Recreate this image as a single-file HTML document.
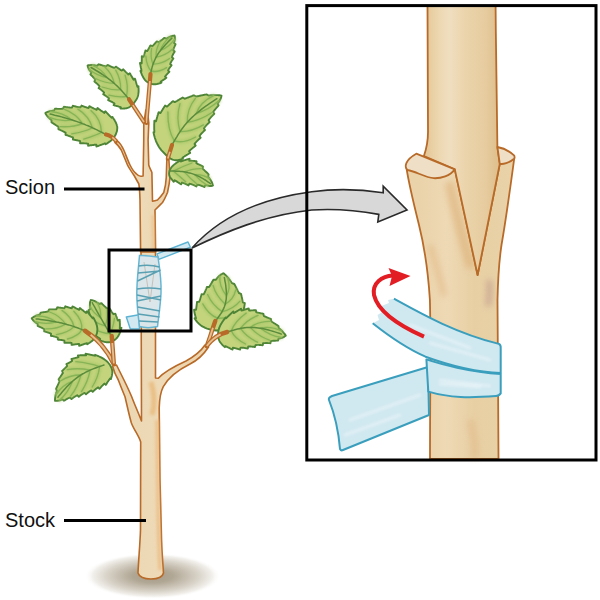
<!DOCTYPE html>
<html><head><meta charset="utf-8"><style>
html,body{margin:0;padding:0;background:#fff;}
svg{display:block;}
</style></head><body>
<svg width="600" height="600" viewBox="0 0 600 600">
<defs><linearGradient id="tg" x1="0" y1="0" x2="1" y2="0"><stop offset="0" stop-color="#ebd6b1"/><stop offset="0.5" stop-color="#eedab7"/><stop offset="1" stop-color="#ebd3ab"/></linearGradient><filter id="bl1" filterUnits="userSpaceOnUse" x="0" y="0" width="600" height="600"><feGaussianBlur stdDeviation="1.5"/></filter><filter id="bl2" filterUnits="userSpaceOnUse" x="0" y="0" width="600" height="600"><feGaussianBlur stdDeviation="3"/></filter><radialGradient id="sh" cx="0.5" cy="0.5" r="0.5"><stop offset="0" stop-color="#a49a86"/><stop offset="0.3" stop-color="#b1a795"/><stop offset="0.65" stop-color="#d6d0c5"/><stop offset="0.88" stop-color="#f2f0ec"/><stop offset="1" stop-color="#ffffff" stop-opacity="0"/></radialGradient><linearGradient id="sg" gradientUnits="userSpaceOnUse" x1="427" y1="0" x2="497" y2="0"><stop offset="0" stop-color="#e6c999"/><stop offset="0.18" stop-color="#edd8b2"/><stop offset="0.32" stop-color="#f0dec0"/><stop offset="0.55" stop-color="#ebd4ab"/><stop offset="0.85" stop-color="#e6cb9e"/><stop offset="1" stop-color="#dfc08e"/></linearGradient><linearGradient id="kg" gradientUnits="userSpaceOnUse" x1="420" y1="0" x2="510" y2="0"><stop offset="0" stop-color="#ead3aa"/><stop offset="0.3" stop-color="#eed9b5"/><stop offset="0.6" stop-color="#e8cfa3"/><stop offset="1" stop-color="#e9d2a8"/></linearGradient></defs>
<ellipse cx="152.5" cy="576" rx="68" ry="23" fill="url(#sh)"/><path d="M141,250 L141.5,421 C138,412 134,403 131.7,396.7 C128,388 124,380 120.5,373 L116.5,365 L112.5,366 C114,372 116,376 118.3,380 C121,387 123,392 125,396.7 C127,405 129,415 131.3,422.7 C134,430 139,436 140.7,442 L140.5,530 C140,545 138.5,560 138,573 Q140,579 151,579 Q162,579 163.5,573 C162.5,560 161.5,545 161.3,530 L160,480 L159.2,408 C159.5,398 161,391 163.3,386.7 C168,378 178,370 190,364 C198,360 204,354 208.5,347 L205,345 C201,351 195,356 186,361 C175,366 164,372 158.3,378.3 L155.5,378 L155.5,250 Z" fill="url(#tg)" stroke="#b86a28" stroke-width="1.6" stroke-linejoin="round"/><path d="M157,420 C157.5,480 158,540 160,570" stroke="#eab679" stroke-width="3" fill="none" filter="url(#bl1)" opacity="0.8"/><path d="M151,382 C155,395 155,405 152,415" stroke="#e8b878" stroke-width="5" fill="none" filter="url(#bl1)" opacity="0.8"/><path d="M140.6,252 L140,200 C139.8,193 139.5,187 138.75,183.75 C136.5,180 135,177 133.75,175 C131,171 129,168 127.5,165 C125,159 123,154 121.25,150 C119,146.5 117,144 115,142.5 L116.5,140 C119,142 122,146 123.75,150 C126,155 128,161 130,165 C132,169 134,172 136.25,173.75 C138,175.5 140,176.5 141.25,176.25 L143.1,176 L143.75,140 L143.8,124 L145.8,110 L147.3,110 L148.8,123 L148.1,140 L148.75,165 C149.5,168 151,170 151.9,172.5 L152.5,201.25 C154,201 156,200.5 157.5,200 C160,197.5 162,195 163.75,192.5 C165,188 166,183 166.25,177.5 L166.9,157.5 L168.75,157.5 L170,177.5 C169.5,183 168.5,188 167.5,192.5 C166,196 164.5,199.5 162.5,202.5 C160,205 157,208 155,210 L155.6,252 Z" fill="url(#tg)" stroke="#b86a28" stroke-width="1.6" stroke-linejoin="round"/><path d="M153,215 L153.5,250" stroke="#e9b87e" stroke-width="2.5" fill="none" filter="url(#bl1)" opacity="0.7"/><path d="M148.0,82.5 L150.9,83.8 L152.2,84.1 L153.1,84.2 L153.9,84.3 L154.6,84.3 L155.3,84.3 L155.9,84.2 L156.4,84.1 L156.9,84.1 L157.4,83.9 L157.9,83.8 L158.4,83.7 L158.8,83.6 L159.3,83.4 L159.7,83.3 L160.2,83.2 L160.6,83.0 L161.0,82.9 L161.5,82.7 L160.6,81.9 L160.9,81.6 L161.2,81.4 L161.5,81.2 L161.8,81.0 L162.0,80.7 L162.3,80.5 L162.7,80.3 L163.0,80.1 L163.3,79.9 L163.6,79.7 L163.9,79.5 L164.2,79.3 L164.6,79.1 L164.9,78.9 L165.2,78.6 L165.5,78.4 L165.8,78.2 L166.1,78.0 L166.4,77.8 L165.0,76.6 L165.2,76.3 L165.4,76.1 L165.6,75.8 L165.8,75.5 L166.1,75.3 L166.3,75.0 L166.5,74.7 L166.8,74.5 L167.0,74.2 L167.2,74.0 L167.5,73.7 L167.7,73.5 L167.9,73.2 L168.2,73.0 L168.4,72.7 L168.7,72.5 L168.9,72.2 L169.2,72.0 L169.4,71.7 L168.0,70.5 L168.1,70.2 L168.3,69.9 L168.4,69.6 L168.6,69.3 L168.8,69.0 L169.0,68.8 L169.1,68.5 L169.3,68.2 L169.5,67.9 L169.7,67.6 L169.9,67.4 L170.1,67.1 L170.3,66.8 L170.5,66.6 L170.8,66.3 L171.0,66.0 L171.2,65.8 L171.4,65.5 L171.6,65.2 L170.1,64.0 L170.2,63.7 L170.4,63.4 L170.5,63.1 L170.7,62.8 L170.8,62.5 L171.0,62.2 L171.1,61.9 L171.3,61.6 L171.5,61.3 L171.6,61.0 L171.8,60.7 L172.0,60.4 L172.2,60.1 L172.4,59.9 L172.6,59.6 L172.8,59.3 L173.0,59.0 L173.2,58.8 L173.4,58.5 L171.8,57.2 L171.9,56.9 L172.1,56.6 L172.2,56.3 L172.3,55.9 L172.4,55.6 L172.6,55.3 L172.7,55.0 L172.9,54.7 L173.0,54.4 L173.2,54.1 L173.3,53.8 L173.5,53.5 L173.7,53.2 L173.8,52.9 L174.0,52.7 L174.2,52.4 L174.4,52.1 L174.6,51.8 L174.7,51.5 L173.2,50.2 L173.3,49.9 L173.3,49.6 L173.4,49.2 L173.6,48.9 L173.7,48.6 L173.8,48.3 L173.9,47.9 L174.0,47.6 L174.2,47.3 L174.3,47.0 L174.4,46.7 L174.6,46.4 L174.7,46.1 L174.9,45.8 L175.0,45.5 L175.1,45.2 L175.3,44.9 L175.4,44.5 L175.6,44.2 L174.0,43.0 L174.1,42.6 L174.2,42.3 L174.3,42.0 L174.4,41.6 L174.5,41.3 L174.6,41.0 L174.6,40.6 L174.7,40.3 L174.8,39.9 L174.8,39.6 L174.9,39.2 L174.9,38.8 L174.9,38.5 L174.9,38.1 L174.9,37.7 L174.9,37.3 L174.8,36.9 L174.8,36.4 L174.7,36.0 L174.5,35.5 L174.5,35.5 L173.9,35.6 L173.4,35.7 L172.9,35.8 L172.4,35.9 L172.0,36.0 L171.5,36.1 L171.1,36.3 L170.7,36.4 L170.3,36.6 L169.9,36.8 L169.5,36.9 L169.1,37.1 L168.8,37.3 L168.4,37.5 L168.1,37.7 L167.7,37.9 L167.4,38.1 L167.1,38.3 L166.7,38.5 L166.4,38.7 L164.4,37.9 L164.1,38.1 L163.8,38.4 L163.5,38.6 L163.2,38.8 L162.9,39.1 L162.7,39.3 L162.4,39.5 L162.1,39.7 L161.8,40.0 L161.5,40.2 L161.2,40.4 L160.9,40.6 L160.6,40.8 L160.3,41.1 L160.0,41.3 L159.7,41.5 L159.4,41.7 L159.1,41.9 L158.7,42.1 L156.8,41.4 L156.6,41.6 L156.3,41.9 L156.1,42.2 L155.9,42.4 L155.7,42.7 L155.4,42.9 L155.2,43.2 L155.0,43.5 L154.7,43.7 L154.5,44.0 L154.3,44.2 L154.1,44.5 L153.8,44.7 L153.6,45.0 L153.3,45.2 L153.1,45.5 L152.8,45.7 L152.6,46.0 L152.3,46.2 L150.4,45.5 L150.2,45.8 L150.1,46.1 L149.9,46.4 L149.8,46.7 L149.6,47.0 L149.4,47.3 L149.3,47.6 L149.1,47.9 L149.0,48.2 L148.8,48.5 L148.6,48.8 L148.5,49.1 L148.3,49.4 L148.1,49.7 L148.0,50.0 L147.8,50.2 L147.6,50.5 L147.4,50.8 L147.2,51.1 L145.4,50.4 L145.3,50.8 L145.2,51.1 L145.1,51.4 L145.0,51.8 L144.9,52.1 L144.8,52.5 L144.8,52.8 L144.7,53.1 L144.6,53.5 L144.5,53.8 L144.4,54.1 L144.3,54.5 L144.2,54.8 L144.1,55.2 L144.0,55.5 L143.9,55.8 L143.8,56.1 L143.7,56.5 L143.6,56.8 L141.8,56.2 L141.8,56.6 L141.8,56.9 L141.8,57.3 L141.8,57.7 L141.8,58.1 L141.8,58.5 L141.8,58.9 L141.8,59.2 L141.8,59.6 L141.8,60.0 L141.8,60.4 L141.7,60.8 L141.7,61.2 L141.7,61.5 L141.7,61.9 L141.7,62.3 L141.7,62.7 L141.7,63.1 L141.6,63.4 L140.0,62.9 L140.0,63.3 L140.1,63.7 L140.2,64.2 L140.3,64.6 L140.4,65.0 L140.5,65.5 L140.6,65.9 L140.6,66.4 L140.7,66.8 L140.8,67.2 L140.9,67.7 L141.0,68.1 L141.1,68.6 L141.2,69.0 L141.3,69.4 L141.3,69.8 L141.4,70.3 L141.5,70.7 L141.5,71.1 L140.4,70.9 L140.6,71.4 L140.8,71.9 L141.0,72.4 L141.2,72.9 L141.4,73.4 L141.6,73.9 L141.8,74.4 L142.0,74.9 L142.3,75.4 L142.5,75.9 L142.8,76.5 L143.0,77.0 L143.4,77.6 L143.7,78.1 L144.1,78.7 L144.5,79.4 L145.1,80.1 L145.9,80.9 L148.0,82.5Z" fill="#c3d47d" stroke="#4d8436" stroke-width="1.9" stroke-linejoin="round"/><path d="M151.2,71.0 Q157.9,72.9 166.6,67.6 M151.2,71.0 Q146.7,66.6 145.8,55.9 M153.1,64.1 Q161.6,64.2 169.6,58.5 M153.1,64.1 Q150.0,57.6 151.6,48.3 M156.1,57.2 Q165.4,55.5 172.4,49.2 M156.1,57.2 Q155.4,49.8 159.8,42.1 M160.4,50.5 Q169.5,46.9 174.4,39.4 M160.4,50.5 Q162.6,43.1 170.1,37.0" fill="none" stroke="#a2c363" stroke-width="3.5" stroke-linecap="round" opacity="0.7" filter="url(#bl1)"/><path d="M151.2,71.0 Q157.9,72.9 166.6,67.6 M151.2,71.0 Q146.7,66.6 145.8,55.9 M153.1,64.1 Q161.6,64.2 169.6,58.5 M153.1,64.1 Q150.0,57.6 151.6,48.3 M156.1,57.2 Q165.4,55.5 172.4,49.2 M156.1,57.2 Q155.4,49.8 159.8,42.1 M160.4,50.5 Q169.5,46.9 174.4,39.4 M160.4,50.5 Q162.6,43.1 170.1,37.0" fill="none" stroke="#86b456" stroke-width="1.3" stroke-linecap="round"/><path d="M150.5,74.0 L150.8,72.7 L151.1,71.5 L151.4,70.2 L151.7,68.9 L152.0,67.6 L152.4,66.3 L152.8,64.9 L153.3,63.6 L153.8,62.3 L154.3,61.0 L154.9,59.7 L155.5,58.4 L156.1,57.1 L156.9,55.8 L157.6,54.5 L158.5,53.2 L159.3,51.9 L160.3,50.7 L161.3,49.4 L162.3,48.2 L163.4,46.9 L164.5,45.7 L165.6,44.4 L166.8,43.2 L168.0,41.9 L169.3,40.6 L170.6,39.4 L171.9,38.1" fill="none" stroke="#5a8c3c" stroke-width="1.5" stroke-linecap="round"/><path d="M134.0,103.0 L136.6,99.2 L137.3,97.8 L137.7,96.7 L138.0,95.7 L138.2,94.9 L138.3,94.1 L138.4,93.4 L138.5,92.7 L138.6,92.0 L138.6,91.4 L138.6,90.8 L138.6,90.2 L138.6,89.6 L138.6,89.0 L138.6,88.5 L138.5,87.9 L138.5,87.3 L138.5,86.8 L138.5,86.2 L137.5,86.8 L137.3,86.4 L137.2,86.0 L137.1,85.6 L136.9,85.1 L136.8,84.7 L136.7,84.3 L136.5,83.8 L136.4,83.4 L136.3,83.0 L136.2,82.5 L136.1,82.1 L135.9,81.6 L135.8,81.2 L135.7,80.8 L135.5,80.3 L135.4,79.9 L135.3,79.5 L135.1,79.0 L135.0,78.6 L133.6,79.7 L133.4,79.4 L133.2,79.1 L133.0,78.8 L132.8,78.4 L132.6,78.1 L132.4,77.7 L132.2,77.4 L132.0,77.0 L131.8,76.7 L131.6,76.4 L131.4,76.0 L131.2,75.7 L131.0,75.3 L130.8,75.0 L130.6,74.6 L130.4,74.3 L130.2,73.9 L130.0,73.6 L129.8,73.3 L128.3,74.5 L128.0,74.2 L127.7,74.0 L127.5,73.7 L127.2,73.5 L126.9,73.2 L126.7,72.9 L126.4,72.7 L126.1,72.4 L125.9,72.1 L125.6,71.8 L125.4,71.6 L125.1,71.3 L124.9,71.0 L124.6,70.7 L124.3,70.5 L124.1,70.2 L123.8,69.9 L123.6,69.6 L123.3,69.3 L121.8,70.6 L121.5,70.4 L121.2,70.2 L120.8,70.1 L120.5,69.9 L120.2,69.6 L119.9,69.4 L119.6,69.2 L119.3,69.0 L119.0,68.8 L118.7,68.6 L118.4,68.4 L118.1,68.2 L117.7,67.9 L117.4,67.7 L117.1,67.5 L116.8,67.3 L116.5,67.1 L116.2,66.8 L115.9,66.6 L114.4,67.9 L114.0,67.8 L113.6,67.7 L113.3,67.5 L112.9,67.4 L112.6,67.3 L112.2,67.1 L111.8,66.9 L111.5,66.8 L111.1,66.6 L110.8,66.5 L110.4,66.3 L110.1,66.1 L109.8,66.0 L109.4,65.8 L109.1,65.6 L108.7,65.5 L108.4,65.3 L108.0,65.1 L107.7,64.9 L106.1,66.3 L105.7,66.3 L105.3,66.2 L104.9,66.1 L104.5,66.0 L104.1,65.9 L103.7,65.8 L103.3,65.7 L102.9,65.6 L102.5,65.5 L102.1,65.3 L101.7,65.2 L101.3,65.1 L101.0,65.0 L100.6,64.9 L100.2,64.7 L99.8,64.6 L99.4,64.5 L99.1,64.4 L98.7,64.3 L97.0,65.7 L96.6,65.6 L96.2,65.6 L95.8,65.5 L95.3,65.4 L94.9,65.3 L94.5,65.3 L94.1,65.2 L93.6,65.2 L93.2,65.1 L92.7,65.1 L92.3,65.1 L91.8,65.0 L91.3,65.0 L90.8,65.0 L90.3,65.1 L89.8,65.1 L89.3,65.2 L88.8,65.2 L88.2,65.3 L87.6,65.5 L87.6,65.5 L87.7,66.0 L87.8,66.5 L87.9,66.9 L88.0,67.3 L88.2,67.7 L88.4,68.1 L88.5,68.5 L88.7,68.9 L88.9,69.2 L89.1,69.6 L89.3,69.9 L89.5,70.2 L89.8,70.5 L90.0,70.8 L90.2,71.1 L90.5,71.4 L90.7,71.7 L90.9,72.0 L91.2,72.3 L91.4,72.7 L90.4,74.5 L90.7,74.7 L91.0,75.0 L91.3,75.2 L91.5,75.5 L91.8,75.7 L92.1,76.0 L92.3,76.3 L92.6,76.5 L92.9,76.8 L93.1,77.1 L93.4,77.3 L93.6,77.6 L93.9,77.9 L94.1,78.2 L94.4,78.5 L94.6,78.8 L94.9,79.1 L95.1,79.4 L95.3,79.7 L94.4,81.5 L94.6,81.7 L94.9,81.9 L95.2,82.2 L95.5,82.4 L95.8,82.6 L96.1,82.9 L96.4,83.1 L96.7,83.3 L97.0,83.6 L97.2,83.8 L97.5,84.1 L97.8,84.3 L98.1,84.6 L98.3,84.9 L98.6,85.1 L98.8,85.4 L99.1,85.7 L99.3,86.0 L99.6,86.3 L98.6,88.1 L98.9,88.3 L99.2,88.5 L99.5,88.7 L99.9,88.9 L100.2,89.1 L100.5,89.3 L100.8,89.6 L101.1,89.8 L101.4,90.0 L101.6,90.2 L101.9,90.5 L102.2,90.7 L102.5,91.0 L102.8,91.2 L103.1,91.5 L103.3,91.7 L103.6,92.0 L103.9,92.2 L104.1,92.5 L103.2,94.3 L103.5,94.5 L103.8,94.7 L104.2,94.8 L104.5,95.0 L104.8,95.2 L105.1,95.4 L105.4,95.6 L105.7,95.8 L106.1,96.1 L106.4,96.3 L106.7,96.5 L107.0,96.7 L107.3,96.9 L107.6,97.1 L107.9,97.4 L108.2,97.6 L108.4,97.8 L108.7,98.1 L109.0,98.3 L108.1,100.1 L108.4,100.2 L108.8,100.4 L109.1,100.6 L109.5,100.7 L109.8,100.9 L110.2,101.1 L110.5,101.2 L110.8,101.4 L111.2,101.6 L111.5,101.7 L111.9,101.9 L112.2,102.1 L112.5,102.3 L112.9,102.5 L113.2,102.7 L113.5,102.8 L113.8,103.0 L114.1,103.2 L114.5,103.5 L113.6,105.1 L114.0,105.2 L114.4,105.4 L114.7,105.5 L115.1,105.6 L115.5,105.7 L115.9,105.8 L116.3,105.9 L116.7,106.0 L117.1,106.1 L117.5,106.2 L117.9,106.3 L118.3,106.4 L118.7,106.6 L119.0,106.7 L119.4,106.8 L119.8,106.9 L120.2,107.1 L120.5,107.2 L120.9,107.4 L120.4,108.5 L120.9,108.5 L121.4,108.6 L121.8,108.6 L122.3,108.6 L122.8,108.6 L123.3,108.6 L123.8,108.5 L124.3,108.5 L124.8,108.5 L125.3,108.4 L125.8,108.4 L126.4,108.3 L127.0,108.1 L127.6,107.9 L128.3,107.7 L129.1,107.3 L129.9,106.8 L131.1,106.0 L134.0,103.0Z" fill="#c3d47d" stroke="#4d8436" stroke-width="1.9" stroke-linejoin="round"/><path d="M126.5,96.3 Q128.7,86.4 125.1,75.1 M126.5,96.3 Q119.5,97.7 108.9,95.1 M120.7,89.7 Q121.0,79.2 115.7,70.1 M120.7,89.7 Q111.9,90.4 102.0,87.0 M114.3,83.4 Q112.1,73.6 104.8,67.0 M114.3,83.4 Q104.5,83.0 95.5,78.5 M106.9,77.5 Q102.1,69.3 92.6,65.5 M106.9,77.5 Q97.0,75.6 89.5,69.4" fill="none" stroke="#a2c363" stroke-width="3.5" stroke-linecap="round" opacity="0.7" filter="url(#bl1)"/><path d="M126.5,96.3 Q128.7,86.4 125.1,75.1 M126.5,96.3 Q119.5,97.7 108.9,95.1 M120.7,89.7 Q121.0,79.2 115.7,70.1 M120.7,89.7 Q111.9,90.4 102.0,87.0 M114.3,83.4 Q112.1,73.6 104.8,67.0 M114.3,83.4 Q104.5,83.0 95.5,78.5 M106.9,77.5 Q102.1,69.3 92.6,65.5 M106.9,77.5 Q97.0,75.6 89.5,69.4" fill="none" stroke="#86b456" stroke-width="1.3" stroke-linecap="round"/><path d="M129.0,99.3 L128.0,98.1 L126.9,96.8 L125.9,95.5 L124.8,94.3 L123.7,93.0 L122.6,91.8 L121.5,90.5 L120.3,89.3 L119.1,88.1 L117.9,86.8 L116.7,85.6 L115.4,84.5 L114.1,83.3 L112.8,82.1 L111.4,81.0 L110.0,79.9 L108.6,78.8 L107.1,77.7 L105.7,76.6 L104.1,75.6 L102.6,74.5 L101.0,73.5 L99.4,72.5 L97.8,71.5 L96.1,70.5 L94.5,69.5 L92.8,68.5 L91.1,67.5" fill="none" stroke="#5a8c3c" stroke-width="1.5" stroke-linecap="round"/><path d="M117.0,131.0 L117.3,127.9 L117.2,126.5 L116.9,125.5 L116.7,124.6 L116.4,123.9 L116.1,123.1 L115.8,122.5 L115.5,121.9 L115.2,121.3 L114.8,120.7 L114.5,120.1 L114.2,119.6 L113.8,119.0 L113.5,118.5 L113.1,118.0 L112.8,117.5 L112.4,116.9 L111.8,117.7 L111.4,117.4 L111.0,117.0 L110.6,116.7 L110.2,116.3 L109.8,115.9 L109.4,115.6 L109.1,115.2 L108.7,114.8 L108.3,114.4 L107.9,114.0 L107.6,113.6 L107.2,113.2 L106.8,112.8 L106.4,112.4 L106.0,112.0 L105.7,111.6 L105.3,111.3 L104.4,112.9 L104.0,112.6 L103.6,112.4 L103.2,112.1 L102.8,111.8 L102.4,111.5 L102.0,111.2 L101.5,111.0 L101.1,110.7 L100.7,110.4 L100.3,110.1 L99.9,109.8 L99.5,109.5 L99.1,109.2 L98.7,108.9 L98.3,108.6 L97.9,108.3 L97.5,108.0 L96.6,109.8 L96.2,109.6 L95.7,109.4 L95.3,109.2 L94.9,109.0 L94.5,108.8 L94.0,108.6 L93.6,108.4 L93.2,108.2 L92.8,108.0 L92.3,107.8 L91.9,107.5 L91.5,107.3 L91.1,107.1 L90.7,106.9 L90.2,106.6 L89.8,106.4 L89.4,106.2 L88.5,108.0 L88.0,107.9 L87.6,107.8 L87.1,107.6 L86.7,107.5 L86.3,107.4 L85.8,107.2 L85.4,107.1 L84.9,106.9 L84.5,106.8 L84.1,106.6 L83.6,106.4 L83.2,106.3 L82.8,106.1 L82.3,105.9 L81.9,105.8 L81.5,105.6 L80.5,107.4 L80.1,107.3 L79.6,107.3 L79.1,107.2 L78.7,107.1 L78.2,107.1 L77.8,107.0 L77.3,106.9 L76.9,106.8 L76.4,106.7 L76.0,106.6 L75.5,106.5 L75.1,106.3 L74.6,106.2 L74.2,106.1 L73.7,106.0 L73.3,105.9 L72.8,105.8 L71.9,107.6 L71.4,107.6 L70.9,107.6 L70.5,107.6 L70.0,107.6 L69.5,107.5 L69.1,107.5 L68.6,107.4 L68.1,107.4 L67.7,107.3 L67.2,107.3 L66.8,107.2 L66.3,107.2 L65.8,107.1 L65.4,107.0 L64.9,107.0 L64.5,106.9 L64.0,106.8 L63.0,108.7 L62.6,108.8 L62.1,108.8 L61.6,108.9 L61.1,108.9 L60.6,108.9 L60.1,108.9 L59.7,108.9 L59.2,108.9 L58.7,108.9 L58.2,108.9 L57.8,108.9 L57.3,108.9 L56.8,108.8 L56.4,108.8 L55.9,108.8 L55.4,108.8 L54.9,108.8 L54.0,110.6 L53.5,110.7 L53.0,110.7 L52.5,110.8 L52.0,110.9 L51.5,110.9 L51.0,111.0 L50.5,111.1 L50.0,111.2 L49.5,111.3 L49.0,111.4 L48.5,111.6 L48.0,111.8 L47.5,111.9 L46.9,112.2 L46.4,112.4 L45.9,112.7 L45.3,113.0 L45.3,113.0 L45.6,113.7 L45.9,114.2 L46.3,114.8 L46.6,115.3 L47.0,115.8 L47.4,116.2 L47.7,116.6 L48.1,117.1 L48.5,117.4 L48.9,117.8 L49.2,118.2 L49.6,118.6 L50.0,118.9 L50.4,119.2 L50.8,119.6 L51.2,119.9 L51.6,120.2 L51.5,122.3 L51.9,122.6 L52.3,122.9 L52.8,123.1 L53.2,123.4 L53.6,123.6 L54.0,123.9 L54.4,124.2 L54.8,124.4 L55.2,124.7 L55.6,124.9 L56.0,125.2 L56.5,125.5 L56.9,125.8 L57.3,126.0 L57.7,126.3 L58.1,126.6 L58.5,126.9 L58.4,129.1 L58.8,129.3 L59.3,129.5 L59.7,129.7 L60.1,129.9 L60.5,130.1 L61.0,130.3 L61.4,130.5 L61.8,130.7 L62.2,130.9 L62.7,131.1 L63.1,131.3 L63.5,131.5 L63.9,131.8 L64.4,132.0 L64.8,132.2 L65.2,132.5 L65.6,132.7 L65.5,134.8 L66.0,135.0 L66.4,135.1 L66.9,135.2 L67.3,135.4 L67.8,135.5 L68.2,135.7 L68.6,135.8 L69.1,136.0 L69.5,136.1 L69.9,136.3 L70.4,136.4 L70.8,136.6 L71.3,136.8 L71.7,136.9 L72.1,137.1 L72.5,137.3 L73.0,137.5 L72.9,139.6 L73.4,139.6 L73.8,139.7 L74.3,139.8 L74.8,139.9 L75.2,140.0 L75.7,140.0 L76.1,140.1 L76.6,140.2 L77.0,140.3 L77.5,140.4 L77.9,140.5 L78.4,140.6 L78.8,140.7 L79.3,140.8 L79.7,141.0 L80.2,141.1 L80.1,143.2 L80.6,143.2 L81.1,143.2 L81.5,143.2 L82.0,143.2 L82.5,143.3 L83.0,143.3 L83.4,143.3 L83.9,143.3 L84.4,143.4 L84.8,143.4 L85.3,143.4 L85.8,143.4 L86.2,143.5 L86.7,143.5 L87.2,143.6 L87.6,143.6 L88.1,143.7 L88.1,145.7 L88.6,145.6 L89.1,145.5 L89.5,145.5 L90.0,145.4 L90.5,145.3 L91.0,145.3 L91.5,145.2 L92.0,145.1 L92.5,145.1 L93.0,145.0 L93.5,145.0 L94.0,144.9 L94.5,144.8 L95.0,144.8 L95.4,144.7 L95.9,144.7 L96.4,144.7 L96.4,146.5 L97.0,146.3 L97.5,146.1 L98.0,146.0 L98.5,145.8 L99.0,145.6 L99.6,145.4 L100.1,145.2 L100.6,145.0 L101.1,144.8 L101.7,144.6 L102.2,144.4 L102.7,144.3 L103.2,144.1 L103.8,143.9 L104.3,143.7 L104.8,143.5 L105.3,143.4 L105.6,144.3 L106.1,144.0 L106.7,143.6 L107.3,143.3 L107.8,142.9 L108.4,142.5 L109.0,142.1 L109.6,141.6 L110.2,141.2 L110.8,140.7 L111.4,140.2 L112.0,139.6 L112.6,139.0 L113.3,138.2 L114.0,137.4 L114.7,136.3 L115.6,134.8 L117.0,131.0Z" fill="#c3d47d" stroke="#4d8436" stroke-width="1.9" stroke-linejoin="round"/><path d="M101.4,132.2 Q101.2,119.4 90.9,110.6 M101.4,132.2 Q97.4,134.9 83.7,139.1 M92.4,127.7 Q88.8,115.8 77.9,109.1 M92.4,127.7 Q84.8,131.8 71.7,133.8 M82.5,123.6 Q76.0,113.7 64.5,109.4 M82.5,123.6 Q72.6,127.4 60.2,126.6 M72.0,119.9 Q62.9,112.6 50.6,111.5 M72.0,119.9 Q60.6,122.0 49.2,117.4" fill="none" stroke="#a2c363" stroke-width="3.5" stroke-linecap="round" opacity="0.7" filter="url(#bl1)"/><path d="M101.4,132.2 Q101.2,119.4 90.9,110.6 M101.4,132.2 Q97.4,134.9 83.7,139.1 M92.4,127.7 Q88.8,115.8 77.9,109.1 M92.4,127.7 Q84.8,131.8 71.7,133.8 M82.5,123.6 Q76.0,113.7 64.5,109.4 M82.5,123.6 Q72.6,127.4 60.2,126.6 M72.0,119.9 Q62.9,112.6 50.6,111.5 M72.0,119.9 Q60.6,122.0 49.2,117.4" fill="none" stroke="#86b456" stroke-width="1.3" stroke-linecap="round"/><path d="M105.3,134.3 L103.7,133.4 L102.1,132.5 L100.4,131.7 L98.7,130.8 L97.0,129.9 L95.3,129.1 L93.5,128.3 L91.7,127.4 L89.9,126.6 L88.1,125.8 L86.2,125.1 L84.3,124.3 L82.3,123.6 L80.4,122.8 L78.4,122.1 L76.4,121.4 L74.3,120.7 L72.3,120.0 L70.2,119.4 L68.1,118.7 L65.9,118.1 L63.7,117.5 L61.5,116.9 L59.3,116.3 L57.0,115.7 L54.7,115.2 L52.4,114.6 L50.1,114.1" fill="none" stroke="#5a8c3c" stroke-width="1.5" stroke-linecap="round"/><path d="M167.0,156.0 L171.0,158.9 L172.5,159.6 L173.6,159.9 L174.6,160.1 L175.4,160.2 L176.2,160.2 L176.9,160.2 L177.6,160.1 L178.3,160.0 L178.9,159.9 L179.5,159.8 L180.1,159.6 L180.7,159.5 L181.3,159.3 L181.8,159.1 L182.4,158.9 L183.0,158.8 L182.5,157.7 L182.9,157.4 L183.4,157.1 L183.8,156.8 L184.3,156.5 L184.7,156.2 L185.1,155.9 L185.6,155.6 L186.0,155.4 L186.5,155.1 L186.9,154.8 L187.4,154.6 L187.9,154.3 L188.3,154.0 L188.8,153.7 L189.2,153.5 L189.7,153.2 L190.2,152.9 L189.1,151.3 L189.4,150.9 L189.8,150.5 L190.2,150.2 L190.5,149.8 L190.9,149.5 L191.3,149.2 L191.7,148.8 L192.1,148.5 L192.5,148.2 L192.9,147.8 L193.3,147.5 L193.7,147.2 L194.1,146.9 L194.5,146.5 L194.9,146.2 L195.3,145.9 L195.7,145.6 L194.5,143.9 L194.9,143.5 L195.2,143.1 L195.5,142.7 L195.9,142.3 L196.2,141.9 L196.5,141.6 L196.9,141.2 L197.3,140.8 L197.6,140.5 L198.0,140.1 L198.4,139.8 L198.7,139.4 L199.1,139.1 L199.5,138.8 L199.9,138.4 L200.3,138.1 L200.7,137.7 L199.5,136.0 L199.8,135.6 L200.1,135.2 L200.4,134.8 L200.7,134.4 L201.1,134.0 L201.4,133.6 L201.8,133.3 L202.1,132.9 L202.5,132.5 L202.8,132.2 L203.2,131.8 L203.5,131.4 L203.9,131.1 L204.3,130.7 L204.7,130.4 L205.0,130.1 L203.9,128.4 L204.2,127.9 L204.5,127.5 L204.8,127.1 L205.1,126.7 L205.5,126.3 L205.8,125.9 L206.1,125.6 L206.5,125.2 L206.8,124.8 L207.2,124.4 L207.5,124.1 L207.9,123.7 L208.3,123.4 L208.6,123.0 L209.0,122.7 L209.4,122.3 L209.7,122.0 L208.6,120.3 L208.9,119.8 L209.2,119.4 L209.5,119.0 L209.8,118.6 L210.1,118.2 L210.5,117.8 L210.8,117.4 L211.1,117.1 L211.5,116.7 L211.8,116.3 L212.2,115.9 L212.5,115.6 L212.9,115.2 L213.2,114.9 L213.6,114.5 L214.0,114.1 L214.3,113.8 L213.2,112.1 L213.5,111.6 L213.7,111.2 L214.0,110.8 L214.3,110.4 L214.7,110.0 L215.0,109.6 L215.3,109.2 L215.6,108.8 L216.0,108.4 L216.3,108.0 L216.6,107.6 L217.0,107.3 L217.3,106.9 L217.7,106.5 L218.0,106.1 L218.3,105.7 L218.6,105.3 L217.6,103.7 L217.9,103.3 L218.2,102.9 L218.5,102.4 L218.7,102.0 L219.0,101.6 L219.3,101.2 L219.6,100.7 L219.8,100.3 L220.1,99.8 L220.3,99.3 L220.6,98.9 L220.8,98.4 L221.0,97.9 L221.1,97.3 L221.3,96.8 L221.4,96.2 L221.5,95.6 L221.5,95.6 L220.5,95.4 L219.6,95.3 L218.8,95.2 L217.9,95.1 L217.1,95.1 L216.4,95.1 L215.6,95.1 L214.8,95.1 L214.1,95.1 L213.4,95.1 L212.6,95.1 L211.9,95.2 L211.2,95.3 L210.6,95.3 L209.9,95.4 L209.2,95.5 L208.5,95.5 L206.5,94.4 L205.9,94.5 L205.2,94.6 L204.6,94.7 L204.0,94.9 L203.4,95.0 L202.8,95.1 L202.2,95.3 L201.5,95.4 L200.9,95.5 L200.3,95.7 L199.7,95.8 L199.1,95.9 L198.5,96.1 L197.9,96.2 L197.2,96.3 L196.6,96.4 L196.0,96.5 L193.9,95.3 L193.3,95.5 L192.8,95.7 L192.3,95.9 L191.7,96.1 L191.2,96.3 L190.7,96.5 L190.1,96.7 L189.6,96.9 L189.0,97.1 L188.5,97.3 L188.0,97.5 L187.4,97.7 L186.9,97.9 L186.3,98.1 L185.8,98.3 L185.2,98.5 L184.7,98.7 L182.7,97.5 L182.2,97.8 L181.8,98.1 L181.3,98.4 L180.8,98.6 L180.4,98.9 L179.9,99.2 L179.5,99.4 L179.0,99.7 L178.5,100.0 L178.1,100.3 L177.6,100.5 L177.2,100.8 L176.7,101.1 L176.2,101.3 L175.8,101.6 L175.3,101.8 L174.8,102.1 L172.9,101.1 L172.6,101.4 L172.2,101.8 L171.8,102.1 L171.4,102.5 L171.1,102.8 L170.7,103.2 L170.3,103.5 L169.9,103.9 L169.6,104.2 L169.2,104.6 L168.8,104.9 L168.5,105.3 L168.1,105.6 L167.7,106.0 L167.3,106.3 L167.0,106.6 L165.1,105.6 L164.8,106.1 L164.5,106.5 L164.2,106.9 L164.0,107.4 L163.7,107.8 L163.4,108.2 L163.1,108.7 L162.9,109.1 L162.6,109.6 L162.3,110.0 L162.0,110.4 L161.8,110.9 L161.5,111.3 L161.2,111.8 L161.0,112.2 L160.7,112.6 L160.4,113.1 L158.7,112.2 L158.5,112.7 L158.3,113.2 L158.1,113.8 L158.0,114.3 L157.8,114.8 L157.6,115.4 L157.5,115.9 L157.3,116.4 L157.2,117.0 L157.0,117.5 L156.9,118.1 L156.7,118.6 L156.6,119.2 L156.4,119.7 L156.3,120.3 L156.1,120.8 L156.0,121.4 L154.4,120.7 L154.3,121.3 L154.3,122.0 L154.3,122.6 L154.3,123.3 L154.2,123.9 L154.2,124.6 L154.2,125.3 L154.2,126.0 L154.2,126.7 L154.2,127.4 L154.2,128.0 L154.2,128.7 L154.2,129.4 L154.3,130.1 L154.3,130.8 L154.3,131.5 L154.3,132.2 L153.5,132.1 L153.6,133.0 L153.8,133.8 L154.0,134.7 L154.2,135.6 L154.5,136.5 L154.7,137.4 L155.0,138.4 L155.4,139.3 L155.7,140.3 L156.1,141.4 L156.6,142.5 L157.2,143.7 L157.9,145.0 L158.7,146.5 L159.8,148.2 L161.5,150.3 L167.0,156.0Z" fill="#c3d47d" stroke="#4d8436" stroke-width="1.9" stroke-linejoin="round"/><path d="M174.3,140.9 Q183.2,143.8 195.7,137.0 M174.3,140.9 Q167.5,129.6 167.9,111.9 M180.1,131.5 Q191.4,132.0 203.5,124.9 M180.1,131.5 Q175.8,117.9 180.0,103.6 M187.3,122.3 Q200.0,120.6 211.5,112.8 M187.3,122.3 Q186.9,108.8 195.4,98.4 M196.2,113.6 Q209.2,109.7 219.1,100.6 M196.2,113.6 Q200.5,101.8 213.7,95.7" fill="none" stroke="#a2c363" stroke-width="3.5" stroke-linecap="round" opacity="0.7" filter="url(#bl1)"/><path d="M174.3,140.9 Q183.2,143.8 195.7,137.0 M174.3,140.9 Q167.5,129.6 167.9,111.9 M180.1,131.5 Q191.4,132.0 203.5,124.9 M180.1,131.5 Q175.8,117.9 180.0,103.6 M187.3,122.3 Q200.0,120.6 211.5,112.8 M187.3,122.3 Q186.9,108.8 195.4,98.4 M196.2,113.6 Q209.2,109.7 219.1,100.6 M196.2,113.6 Q200.5,101.8 213.7,95.7" fill="none" stroke="#86b456" stroke-width="1.3" stroke-linecap="round"/><path d="M171.9,145.2 L172.9,143.4 L173.9,141.7 L174.9,139.9 L176.0,138.1 L177.1,136.3 L178.2,134.4 L179.4,132.6 L180.6,130.8 L181.8,129.1 L183.2,127.3 L184.5,125.5 L186.0,123.8 L187.5,122.1 L189.0,120.4 L190.6,118.7 L192.3,117.1 L194.1,115.5 L195.9,113.9 L197.8,112.3 L199.7,110.8 L201.7,109.2 L203.7,107.7 L205.8,106.2 L208.0,104.7 L210.1,103.2 L212.4,101.7 L214.6,100.2 L216.9,98.7" fill="none" stroke="#5a8c3c" stroke-width="1.5" stroke-linecap="round"/><path d="M169.5,171.0 L169.1,173.2 L169.1,174.1 L169.2,174.7 L169.3,175.3 L169.4,175.7 L169.6,176.2 L169.8,176.6 L169.9,176.9 L170.1,177.2 L170.3,177.6 L170.5,177.9 L170.7,178.1 L171.0,178.4 L171.2,178.7 L171.4,179.0 L171.6,179.2 L171.8,179.5 L172.0,179.7 L172.2,180.0 L172.5,180.2 L172.7,180.5 L172.9,180.8 L173.1,181.0 L173.3,181.3 L173.5,181.6 L173.7,181.8 L174.6,180.2 L174.9,180.3 L175.1,180.5 L175.4,180.6 L175.6,180.8 L175.9,180.9 L176.1,181.1 L176.4,181.3 L176.6,181.4 L176.9,181.6 L177.1,181.7 L177.3,181.9 L177.6,182.1 L177.8,182.2 L178.1,182.4 L178.3,182.5 L178.6,182.7 L178.8,182.9 L179.1,183.0 L179.3,183.2 L179.6,183.3 L179.8,183.5 L180.1,183.7 L180.3,183.8 L180.6,184.0 L180.8,184.2 L181.1,184.3 L182.0,182.5 L182.2,182.6 L182.5,182.7 L182.8,182.8 L183.1,182.9 L183.3,183.0 L183.6,183.1 L183.9,183.2 L184.1,183.3 L184.4,183.4 L184.7,183.5 L184.9,183.6 L185.2,183.7 L185.4,183.9 L185.7,184.0 L186.0,184.1 L186.2,184.2 L186.5,184.4 L186.8,184.5 L187.0,184.6 L187.3,184.8 L187.5,184.9 L187.8,185.0 L188.0,185.2 L188.3,185.3 L188.5,185.4 L189.4,183.7 L189.7,183.7 L190.0,183.8 L190.3,183.9 L190.6,183.9 L190.8,184.0 L191.1,184.1 L191.4,184.2 L191.7,184.3 L191.9,184.4 L192.2,184.5 L192.5,184.6 L192.7,184.7 L193.0,184.8 L193.3,184.9 L193.5,185.0 L193.8,185.1 L194.1,185.2 L194.3,185.4 L194.6,185.5 L194.8,185.6 L195.1,185.7 L195.4,185.8 L195.6,186.0 L195.9,186.1 L196.1,186.2 L196.4,186.4 L197.3,184.6 L197.6,184.6 L197.9,184.7 L198.1,184.7 L198.4,184.8 L198.7,184.9 L199.0,185.0 L199.3,185.0 L199.5,185.1 L199.8,185.2 L200.1,185.3 L200.4,185.4 L200.6,185.5 L200.9,185.6 L201.2,185.7 L201.4,185.8 L201.7,185.9 L202.0,186.0 L202.2,186.1 L202.5,186.2 L202.8,186.3 L203.0,186.4 L203.3,186.5 L203.6,186.6 L203.8,186.7 L204.1,186.9 L204.4,187.0 L205.3,185.1 L205.6,185.2 L205.8,185.2 L206.1,185.2 L206.4,185.3 L206.7,185.3 L207.0,185.4 L207.3,185.5 L207.5,185.6 L207.8,185.6 L208.1,185.7 L208.4,185.8 L208.7,185.8 L208.9,185.9 L209.2,185.9 L209.5,186.0 L209.8,186.0 L210.1,186.0 L210.4,186.0 L210.7,186.0 L211.0,186.0 L211.3,186.0 L211.7,185.9 L212.0,185.9 L212.3,185.8 L212.6,185.7 L213.0,185.5 L213.0,185.5 L212.9,185.0 L212.7,184.5 L212.6,184.0 L212.4,183.6 L212.3,183.2 L212.1,182.8 L211.9,182.4 L211.7,182.0 L211.6,181.6 L211.4,181.3 L211.2,181.0 L211.0,180.6 L210.8,180.3 L210.6,180.0 L210.4,179.7 L210.2,179.4 L210.0,179.1 L209.8,178.9 L209.6,178.6 L209.4,178.3 L209.2,178.0 L209.0,177.7 L208.7,177.4 L208.5,177.1 L208.3,176.8 L208.2,176.5 L208.6,174.3 L208.4,174.1 L208.1,173.8 L207.9,173.6 L207.7,173.4 L207.4,173.2 L207.2,173.0 L207.0,172.7 L206.8,172.5 L206.5,172.3 L206.3,172.1 L206.1,171.9 L205.8,171.7 L205.6,171.4 L205.4,171.2 L205.1,171.0 L204.9,170.8 L204.7,170.6 L204.5,170.4 L204.2,170.1 L204.0,169.9 L203.8,169.7 L203.5,169.5 L203.3,169.3 L203.1,169.1 L202.8,168.8 L202.6,168.6 L203.0,166.5 L202.8,166.4 L202.5,166.3 L202.2,166.1 L202.0,166.0 L201.7,165.8 L201.5,165.7 L201.2,165.6 L201.0,165.5 L200.7,165.3 L200.4,165.2 L200.2,165.1 L199.9,164.9 L199.7,164.8 L199.4,164.7 L199.1,164.6 L198.9,164.5 L198.6,164.3 L198.3,164.2 L198.1,164.1 L197.8,164.0 L197.6,163.8 L197.3,163.7 L197.0,163.6 L196.8,163.5 L196.5,163.3 L196.3,163.2 L196.6,161.3 L196.3,161.2 L196.0,161.2 L195.7,161.2 L195.4,161.1 L195.2,161.1 L194.9,161.1 L194.6,161.0 L194.3,161.0 L194.0,161.0 L193.7,161.0 L193.4,160.9 L193.1,160.9 L192.8,160.9 L192.5,160.9 L192.2,160.9 L191.9,160.9 L191.6,160.8 L191.3,160.8 L191.0,160.8 L190.7,160.8 L190.4,160.8 L190.1,160.8 L189.8,160.8 L189.5,160.7 L189.2,160.7 L189.6,158.8 L189.2,158.9 L188.9,159.0 L188.6,159.1 L188.3,159.1 L187.9,159.2 L187.6,159.3 L187.3,159.4 L186.9,159.5 L186.6,159.6 L186.3,159.7 L185.9,159.8 L185.6,159.9 L185.3,160.0 L184.9,160.1 L184.6,160.2 L184.2,160.3 L183.9,160.4 L183.6,160.5 L183.2,160.6 L182.9,160.8 L182.5,160.9 L182.2,161.0 L181.9,161.1 L181.5,161.3 L181.2,161.4 L180.8,161.5 L181.1,159.8 L180.7,160.1 L180.3,160.3 L179.9,160.6 L179.5,160.8 L179.2,161.1 L178.8,161.3 L178.4,161.6 L178.0,161.8 L177.6,162.1 L177.2,162.3 L176.8,162.6 L176.4,162.8 L176.1,163.1 L175.7,163.4 L175.3,163.7 L174.9,164.0 L174.4,164.3 L174.0,164.7 L173.6,165.0 L173.2,165.5 L172.7,165.9 L172.2,166.4 L171.7,167.0 L171.2,167.7 L170.6,168.6 L169.5,171.0Z" fill="#c3d47d" stroke="#4d8436" stroke-width="1.9" stroke-linejoin="round"/><path d="M173.3,171.1 Q179.5,176.4 185.7,181.8 M173.3,171.1 Q182.9,166.2 192.0,163.0 M184.3,171.9 Q190.1,178.5 196.4,183.6 M184.3,171.9 Q193.5,168.3 201.4,168.6 M194.7,174.6 Q200.4,181.4 207.1,185.3 M194.7,174.6 Q202.9,174.1 209.3,178.6" fill="none" stroke="#a2c363" stroke-width="3.5" stroke-linecap="round" opacity="0.7" filter="url(#bl1)"/><path d="M173.3,171.1 Q179.5,176.4 185.7,181.8 M173.3,171.1 Q182.9,166.2 192.0,163.0 M184.3,171.9 Q190.1,178.5 196.4,183.6 M184.3,171.9 Q193.5,168.3 201.4,168.6 M194.7,174.6 Q200.4,181.4 207.1,185.3 M194.7,174.6 Q202.9,174.1 209.3,178.6" fill="none" stroke="#86b456" stroke-width="1.3" stroke-linecap="round"/><path d="M169.5,171.0 L171.1,171.0 L172.7,171.1 L174.3,171.1 L175.9,171.2 L177.5,171.2 L179.1,171.3 L180.6,171.5 L182.2,171.6 L183.7,171.8 L185.3,172.1 L186.8,172.3 L188.3,172.7 L189.8,173.0 L191.2,173.4 L192.7,173.9 L194.1,174.4 L195.6,175.0 L197.0,175.6 L198.4,176.2 L199.8,176.9 L201.1,177.6 L202.5,178.4 L203.8,179.2 L205.2,180.0 L206.5,180.9 L207.8,181.8 L209.1,182.7 L210.4,183.6" fill="none" stroke="#5a8c3c" stroke-width="1.5" stroke-linecap="round"/><path d="M113.0,341.0 L115.4,339.4 L116.3,338.6 L116.9,337.9 L117.4,337.3 L117.8,336.7 L118.2,336.2 L118.5,335.7 L118.7,335.2 L119.0,334.8 L119.2,334.3 L119.4,333.9 L119.6,333.5 L119.7,333.0 L119.9,332.6 L120.0,332.2 L120.2,331.8 L120.3,331.4 L120.5,331.0 L120.6,330.6 L120.7,330.2 L120.8,329.8 L121.0,329.4 L121.1,329.0 L121.2,328.6 L121.3,328.2 L121.5,327.8 L119.8,328.4 L119.8,328.0 L119.8,327.7 L119.8,327.4 L119.8,327.0 L119.9,326.7 L119.9,326.3 L119.9,326.0 L119.9,325.7 L119.9,325.3 L119.9,325.0 L119.9,324.7 L119.9,324.4 L119.9,324.0 L119.9,323.7 L119.9,323.4 L119.8,323.0 L119.8,322.7 L119.8,322.4 L119.8,322.1 L119.8,321.7 L119.8,321.4 L119.8,321.1 L119.7,320.8 L119.7,320.5 L119.7,320.2 L119.7,319.8 L117.8,320.5 L117.7,320.2 L117.6,320.0 L117.5,319.7 L117.4,319.4 L117.3,319.1 L117.2,318.8 L117.1,318.6 L117.0,318.3 L116.9,318.0 L116.8,317.7 L116.7,317.5 L116.6,317.2 L116.5,316.9 L116.4,316.6 L116.3,316.3 L116.2,316.1 L116.1,315.8 L116.0,315.5 L115.9,315.2 L115.8,314.9 L115.7,314.7 L115.6,314.4 L115.5,314.1 L115.4,313.8 L115.3,313.6 L113.5,314.2 L113.3,314.0 L113.1,313.8 L112.9,313.5 L112.7,313.3 L112.6,313.1 L112.4,312.8 L112.2,312.6 L112.1,312.3 L111.9,312.1 L111.7,311.9 L111.6,311.6 L111.4,311.4 L111.3,311.1 L111.1,310.9 L110.9,310.6 L110.8,310.4 L110.6,310.1 L110.5,309.9 L110.3,309.7 L110.1,309.4 L110.0,309.2 L109.8,308.9 L109.6,308.7 L109.5,308.4 L109.3,308.2 L109.2,307.9 L107.2,308.7 L107.0,308.5 L106.7,308.3 L106.5,308.1 L106.3,307.9 L106.0,307.7 L105.8,307.4 L105.6,307.2 L105.4,307.0 L105.1,306.8 L104.9,306.6 L104.7,306.4 L104.5,306.2 L104.3,306.0 L104.0,305.8 L103.8,305.5 L103.6,305.3 L103.4,305.1 L103.2,304.9 L103.0,304.7 L102.7,304.5 L102.5,304.3 L102.3,304.0 L102.1,303.8 L101.9,303.6 L101.6,303.4 L101.4,303.2 L99.4,304.0 L99.1,303.8 L98.8,303.6 L98.5,303.4 L98.2,303.3 L97.9,303.1 L97.6,302.9 L97.4,302.7 L97.1,302.5 L96.9,302.3 L96.6,302.2 L96.3,302.0 L96.0,301.8 L95.7,301.6 L95.4,301.5 L95.1,301.3 L94.8,301.1 L94.5,301.0 L94.1,300.8 L93.8,300.7 L93.4,300.6 L93.0,300.5 L92.6,300.3 L92.2,300.2 L91.8,300.1 L91.3,300.1 L90.8,300.0 L90.8,300.0 L90.6,300.4 L90.5,300.8 L90.3,301.2 L90.2,301.6 L90.2,302.0 L90.1,302.4 L90.0,302.7 L90.0,303.1 L89.9,303.4 L89.9,303.8 L89.9,304.1 L89.9,304.5 L89.9,304.8 L89.9,305.1 L89.9,305.4 L90.0,305.8 L90.0,306.1 L90.0,306.4 L90.1,306.7 L90.1,307.0 L90.2,307.3 L90.2,307.6 L90.2,308.0 L90.2,308.3 L90.2,308.6 L90.2,308.9 L88.5,310.2 L88.5,310.5 L88.6,310.8 L88.7,311.1 L88.8,311.4 L88.9,311.6 L89.0,311.9 L89.0,312.2 L89.1,312.5 L89.2,312.8 L89.3,313.1 L89.4,313.4 L89.4,313.7 L89.5,313.9 L89.6,314.2 L89.7,314.5 L89.8,314.8 L89.8,315.1 L89.9,315.4 L90.0,315.7 L90.1,316.0 L90.1,316.3 L90.2,316.6 L90.3,316.9 L90.3,317.2 L90.4,317.5 L90.4,317.8 L88.8,319.0 L88.9,319.3 L89.0,319.5 L89.2,319.8 L89.3,320.0 L89.4,320.3 L89.6,320.6 L89.7,320.8 L89.8,321.1 L89.9,321.3 L90.1,321.6 L90.2,321.9 L90.3,322.1 L90.5,322.4 L90.6,322.6 L90.7,322.9 L90.8,323.2 L91.0,323.4 L91.1,323.7 L91.2,324.0 L91.3,324.2 L91.5,324.5 L91.6,324.8 L91.7,325.0 L91.8,325.3 L91.9,325.6 L92.0,325.9 L90.4,327.0 L90.6,327.3 L90.8,327.5 L91.0,327.7 L91.2,328.0 L91.3,328.2 L91.5,328.4 L91.7,328.7 L91.9,328.9 L92.1,329.1 L92.3,329.4 L92.4,329.6 L92.6,329.8 L92.8,330.1 L93.0,330.3 L93.2,330.5 L93.4,330.8 L93.6,331.0 L93.7,331.2 L93.9,331.5 L94.1,331.7 L94.3,331.9 L94.4,332.2 L94.6,332.4 L94.8,332.6 L95.0,332.9 L93.4,334.1 L93.6,334.3 L93.9,334.4 L94.1,334.6 L94.4,334.8 L94.6,335.0 L94.9,335.2 L95.2,335.4 L95.4,335.6 L95.7,335.8 L95.9,336.0 L96.2,336.2 L96.5,336.4 L96.7,336.6 L97.0,336.7 L97.2,336.9 L97.5,337.1 L97.8,337.3 L98.1,337.5 L98.3,337.7 L98.6,337.9 L98.9,338.0 L99.1,338.2 L99.4,338.4 L99.7,338.6 L100.0,338.8 L100.2,339.0 L98.8,340.1 L99.2,340.2 L99.6,340.3 L100.0,340.4 L100.3,340.6 L100.7,340.7 L101.1,340.8 L101.5,340.9 L101.9,341.1 L102.2,341.2 L102.6,341.3 L103.0,341.4 L103.4,341.6 L103.8,341.7 L104.2,341.8 L104.6,341.9 L105.1,342.0 L105.5,342.1 L106.0,342.1 L106.5,342.2 L107.0,342.3 L107.6,342.3 L108.2,342.3 L108.8,342.3 L109.6,342.2 L110.7,341.9 L113.0,341.0Z" fill="#c3d47d" stroke="#4d8436" stroke-width="1.9" stroke-linejoin="round"/><path d="M110.0,333.5 Q113.2,327.9 114.4,318.5 M110.0,333.5 Q102.6,333.6 94.8,329.1 M105.3,325.8 Q108.1,318.3 107.1,310.1 M105.3,325.8 Q97.4,324.1 91.5,318.5 M100.6,317.6 Q101.3,309.6 97.3,303.0 M100.6,317.6 Q93.7,313.7 90.3,306.8" fill="none" stroke="#a2c363" stroke-width="3.5" stroke-linecap="round" opacity="0.7" filter="url(#bl1)"/><path d="M110.0,333.5 Q113.2,327.9 114.4,318.5 M110.0,333.5 Q102.6,333.6 94.8,329.1 M105.3,325.8 Q108.1,318.3 107.1,310.1 M105.3,325.8 Q97.4,324.1 91.5,318.5 M100.6,317.6 Q101.3,309.6 97.3,303.0 M100.6,317.6 Q93.7,313.7 90.3,306.8" fill="none" stroke="#86b456" stroke-width="1.3" stroke-linecap="round"/><path d="M111.5,336.0 L110.9,335.0 L110.2,333.9 L109.6,332.8 L108.9,331.8 L108.3,330.7 L107.6,329.6 L106.9,328.5 L106.3,327.4 L105.6,326.2 L104.9,325.1 L104.3,324.0 L103.6,322.8 L102.9,321.6 L102.2,320.4 L101.5,319.2 L100.8,318.0 L100.1,316.8 L99.4,315.6 L98.7,314.4 L98.0,313.1 L97.3,311.9 L96.6,310.6 L95.9,309.3 L95.2,308.0 L94.5,306.7 L93.7,305.4 L93.0,304.1 L92.3,302.7" fill="none" stroke="#5a8c3c" stroke-width="1.5" stroke-linecap="round"/><path d="M97.0,333.0 L97.4,329.5 L97.3,328.0 L97.1,326.8 L96.9,325.8 L96.7,325.0 L96.4,324.2 L96.2,323.4 L95.9,322.7 L95.6,322.1 L95.3,321.4 L95.0,320.8 L94.7,320.2 L94.4,319.6 L94.1,319.1 L93.8,318.5 L93.5,317.9 L93.2,317.4 L92.6,318.2 L92.3,317.8 L91.9,317.4 L91.6,317.0 L91.3,316.6 L90.9,316.2 L90.6,315.8 L90.2,315.4 L89.9,315.0 L89.6,314.6 L89.2,314.1 L88.9,313.7 L88.6,313.3 L88.2,312.9 L87.9,312.5 L87.6,312.1 L87.2,311.7 L86.9,311.3 L86.1,312.9 L85.7,312.6 L85.4,312.4 L85.0,312.1 L84.6,311.8 L84.3,311.5 L83.9,311.2 L83.5,310.9 L83.2,310.6 L82.8,310.3 L82.4,310.0 L82.1,309.8 L81.7,309.5 L81.4,309.2 L81.0,308.9 L80.6,308.6 L80.3,308.3 L79.9,308.0 L79.1,309.8 L78.7,309.6 L78.3,309.4 L77.9,309.2 L77.5,309.0 L77.1,308.9 L76.8,308.7 L76.4,308.5 L76.0,308.3 L75.6,308.1 L75.2,307.9 L74.8,307.7 L74.5,307.4 L74.1,307.2 L73.7,307.0 L73.3,306.8 L72.9,306.6 L72.5,306.4 L71.7,308.3 L71.3,308.2 L70.9,308.1 L70.5,308.0 L70.1,307.9 L69.7,307.8 L69.3,307.7 L68.9,307.5 L68.5,307.4 L68.1,307.3 L67.7,307.1 L67.3,307.0 L66.9,306.9 L66.5,306.8 L66.1,306.6 L65.7,306.5 L65.3,306.3 L64.4,308.2 L64.0,308.2 L63.6,308.2 L63.2,308.1 L62.7,308.1 L62.3,308.0 L61.9,308.0 L61.5,307.9 L61.1,307.9 L60.6,307.8 L60.2,307.8 L59.8,307.7 L59.4,307.6 L59.0,307.6 L58.6,307.5 L58.2,307.4 L57.7,307.4 L57.3,307.3 L56.5,309.2 L56.0,309.3 L55.6,309.3 L55.2,309.4 L54.7,309.4 L54.3,309.4 L53.9,309.4 L53.4,309.4 L53.0,309.4 L52.6,309.4 L52.1,309.4 L51.7,309.4 L51.3,309.4 L50.9,309.4 L50.4,309.4 L50.0,309.4 L49.6,309.4 L49.1,309.4 L48.3,311.4 L47.8,311.5 L47.4,311.6 L46.9,311.7 L46.5,311.8 L46.0,311.9 L45.6,311.9 L45.1,312.0 L44.7,312.1 L44.2,312.1 L43.8,312.2 L43.4,312.3 L42.9,312.3 L42.5,312.4 L42.0,312.4 L41.6,312.5 L41.1,312.6 L40.7,312.7 L39.8,314.5 L39.4,314.7 L38.9,314.8 L38.5,314.9 L38.0,315.1 L37.5,315.2 L37.1,315.4 L36.6,315.5 L36.1,315.7 L35.7,315.9 L35.2,316.1 L34.7,316.4 L34.2,316.6 L33.7,316.9 L33.2,317.2 L32.7,317.5 L32.2,317.9 L31.7,318.3 L31.7,318.3 L32.0,318.8 L32.3,319.3 L32.7,319.7 L33.0,320.1 L33.3,320.5 L33.7,320.9 L34.0,321.2 L34.4,321.5 L34.8,321.8 L35.1,322.1 L35.5,322.4 L35.9,322.7 L36.2,322.9 L36.6,323.2 L37.0,323.4 L37.4,323.7 L37.7,323.9 L37.7,325.9 L38.1,326.1 L38.5,326.3 L38.9,326.5 L39.3,326.6 L39.6,326.8 L40.0,327.0 L40.4,327.1 L40.8,327.3 L41.2,327.5 L41.6,327.7 L42.0,327.9 L42.4,328.1 L42.7,328.3 L43.1,328.5 L43.5,328.7 L43.9,328.9 L44.3,329.2 L44.2,331.3 L44.6,331.4 L45.0,331.5 L45.4,331.6 L45.8,331.8 L46.2,331.9 L46.6,332.0 L47.0,332.1 L47.4,332.3 L47.8,332.4 L48.2,332.6 L48.6,332.7 L49.0,332.9 L49.4,333.0 L49.8,333.2 L50.2,333.4 L50.6,333.5 L51.0,333.7 L50.9,335.8 L51.3,335.9 L51.7,336.0 L52.1,336.0 L52.6,336.1 L53.0,336.2 L53.4,336.3 L53.8,336.4 L54.2,336.5 L54.6,336.6 L55.0,336.7 L55.4,336.8 L55.8,336.9 L56.2,337.0 L56.6,337.2 L57.0,337.3 L57.4,337.5 L57.8,337.6 L57.8,339.6 L58.2,339.7 L58.6,339.7 L59.0,339.7 L59.5,339.8 L59.9,339.8 L60.3,339.9 L60.7,339.9 L61.1,340.0 L61.5,340.0 L62.0,340.1 L62.4,340.2 L62.8,340.2 L63.2,340.3 L63.6,340.4 L64.0,340.5 L64.4,340.6 L64.4,342.7 L64.8,342.7 L65.2,342.7 L65.7,342.7 L66.1,342.7 L66.5,342.7 L67.0,342.7 L67.4,342.7 L67.8,342.7 L68.2,342.7 L68.7,342.7 L69.1,342.7 L69.5,342.7 L69.9,342.7 L70.4,342.8 L70.8,342.8 L71.2,342.9 L71.6,342.9 L71.6,344.9 L72.0,344.8 L72.5,344.7 L72.9,344.7 L73.4,344.6 L73.8,344.5 L74.3,344.5 L74.7,344.4 L75.1,344.4 L75.6,344.3 L76.0,344.2 L76.5,344.2 L76.9,344.1 L77.4,344.1 L77.8,344.0 L78.2,344.0 L78.7,344.0 L79.1,343.9 L79.1,345.8 L79.6,345.6 L80.0,345.5 L80.5,345.3 L81.0,345.2 L81.4,345.0 L81.9,344.8 L82.4,344.7 L82.8,344.5 L83.3,344.3 L83.8,344.2 L84.2,344.0 L84.7,343.9 L85.1,343.7 L85.6,343.6 L86.1,343.5 L86.5,343.3 L87.0,343.2 L87.2,344.2 L87.7,343.9 L88.2,343.6 L88.7,343.3 L89.2,343.0 L89.7,342.7 L90.2,342.3 L90.7,342.0 L91.2,341.6 L91.7,341.2 L92.3,340.7 L92.8,340.3 L93.3,339.7 L93.9,339.1 L94.5,338.4 L95.1,337.5 L95.8,336.3 L97.0,333.0Z" fill="#c3d47d" stroke="#4d8436" stroke-width="1.9" stroke-linejoin="round"/><path d="M81.7,329.5 Q83.0,320.5 73.8,311.2 M81.7,329.5 Q79.6,335.6 67.5,339.0 M74.0,326.6 Q71.8,317.1 62.0,310.4 M74.0,326.6 Q68.2,332.7 56.5,334.6 M65.5,324.1 Q60.1,315.7 49.6,312.0 M65.5,324.1 Q57.1,329.1 45.8,328.9 M56.0,321.9 Q48.0,315.8 36.7,316.0 M56.0,321.9 Q46.0,325.0 35.4,321.7" fill="none" stroke="#a2c363" stroke-width="3.5" stroke-linecap="round" opacity="0.7" filter="url(#bl1)"/><path d="M81.7,329.5 Q83.0,320.5 73.8,311.2 M81.7,329.5 Q79.6,335.6 67.5,339.0 M74.0,326.6 Q71.8,317.1 62.0,310.4 M74.0,326.6 Q68.2,332.7 56.5,334.6 M65.5,324.1 Q60.1,315.7 49.6,312.0 M65.5,324.1 Q57.1,329.1 45.8,328.9 M56.0,321.9 Q48.0,315.8 36.7,316.0 M56.0,321.9 Q46.0,325.0 35.4,321.7" fill="none" stroke="#86b456" stroke-width="1.3" stroke-linecap="round"/><path d="M85.0,330.8 L83.7,330.2 L82.3,329.7 L80.9,329.1 L79.5,328.6 L78.0,328.0 L76.5,327.5 L75.0,327.0 L73.5,326.4 L71.9,325.9 L70.3,325.4 L68.6,324.9 L67.0,324.5 L65.3,324.0 L63.6,323.6 L61.8,323.1 L60.0,322.7 L58.2,322.3 L56.3,322.0 L54.4,321.6 L52.5,321.3 L50.6,320.9 L48.6,320.6 L46.6,320.3 L44.5,320.0 L42.5,319.7 L40.4,319.4 L38.2,319.1 L36.1,318.9" fill="none" stroke="#5a8c3c" stroke-width="1.5" stroke-linecap="round"/><path d="M110.0,365.0 L107.6,362.0 L106.4,360.9 L105.3,360.1 L104.4,359.4 L103.6,358.9 L102.8,358.4 L102.0,357.9 L101.3,357.5 L100.5,357.2 L99.8,356.8 L99.1,356.5 L98.4,356.2 L97.8,355.9 L97.1,355.6 L96.4,355.4 L95.8,355.1 L95.1,354.8 L95.2,355.7 L94.6,355.6 L94.1,355.5 L93.5,355.4 L92.9,355.3 L92.4,355.1 L91.8,355.0 L91.2,354.9 L90.7,354.8 L90.1,354.6 L89.5,354.5 L88.9,354.4 L88.4,354.3 L87.8,354.1 L87.2,354.0 L86.7,353.9 L86.1,353.8 L85.6,353.7 L86.1,355.3 L85.7,355.3 L85.2,355.3 L84.7,355.3 L84.2,355.3 L83.7,355.3 L83.2,355.3 L82.7,355.3 L82.2,355.3 L81.7,355.3 L81.3,355.3 L80.8,355.3 L80.3,355.3 L79.8,355.4 L79.3,355.4 L78.8,355.4 L78.3,355.4 L77.9,355.4 L78.5,357.2 L78.1,357.3 L77.7,357.4 L77.3,357.5 L76.9,357.6 L76.5,357.7 L76.0,357.8 L75.6,357.9 L75.2,358.0 L74.8,358.2 L74.4,358.3 L73.9,358.4 L73.5,358.5 L73.1,358.6 L72.7,358.7 L72.3,358.8 L71.8,358.9 L71.4,359.0 L72.2,360.9 L71.8,361.1 L71.5,361.3 L71.1,361.5 L70.8,361.8 L70.4,362.0 L70.0,362.2 L69.7,362.4 L69.3,362.6 L69.0,362.8 L68.6,363.0 L68.2,363.1 L67.9,363.3 L67.5,363.5 L67.2,363.7 L66.8,363.9 L66.4,364.1 L67.2,366.0 L66.9,366.4 L66.6,366.7 L66.3,367.0 L66.0,367.3 L65.7,367.5 L65.4,367.8 L65.1,368.1 L64.8,368.4 L64.5,368.7 L64.2,369.0 L63.9,369.3 L63.6,369.5 L63.3,369.8 L63.0,370.1 L62.7,370.4 L62.4,370.7 L62.1,371.0 L62.9,373.0 L62.7,373.4 L62.4,373.7 L62.2,374.1 L61.9,374.5 L61.7,374.9 L61.4,375.2 L61.2,375.6 L60.9,376.0 L60.7,376.3 L60.4,376.7 L60.2,377.0 L59.9,377.4 L59.7,377.8 L59.4,378.1 L59.1,378.5 L58.9,378.8 L58.6,379.2 L59.5,381.3 L59.3,381.8 L59.1,382.2 L58.9,382.7 L58.7,383.1 L58.5,383.6 L58.3,384.0 L58.1,384.4 L57.9,384.9 L57.7,385.3 L57.5,385.7 L57.3,386.2 L57.1,386.6 L56.9,387.0 L56.7,387.5 L56.5,387.9 L56.3,388.3 L56.1,388.8 L56.9,390.8 L56.7,391.3 L56.6,391.8 L56.4,392.3 L56.2,392.8 L56.1,393.3 L55.9,393.9 L55.8,394.4 L55.7,394.9 L55.5,395.5 L55.4,396.1 L55.3,396.7 L55.2,397.3 L55.1,397.9 L55.1,398.5 L55.0,399.2 L55.0,399.9 L55.0,400.7 L55.0,400.7 L55.6,400.8 L56.1,400.9 L56.6,400.9 L57.1,400.9 L57.5,400.8 L58.0,400.8 L58.4,400.7 L58.8,400.6 L59.3,400.5 L59.7,400.4 L60.1,400.3 L60.5,400.1 L60.9,400.0 L61.3,399.8 L61.7,399.7 L62.1,399.5 L62.5,399.4 L63.8,400.7 L64.2,400.6 L64.6,400.4 L64.9,400.2 L65.3,399.9 L65.6,399.7 L66.0,399.5 L66.3,399.3 L66.7,399.1 L67.0,398.9 L67.4,398.7 L67.8,398.5 L68.1,398.3 L68.5,398.2 L68.9,398.0 L69.2,397.8 L69.6,397.7 L70.0,397.5 L71.5,399.0 L71.8,398.7 L72.1,398.5 L72.5,398.3 L72.8,398.0 L73.1,397.8 L73.5,397.5 L73.8,397.3 L74.1,397.1 L74.5,396.9 L74.8,396.6 L75.2,396.4 L75.5,396.2 L75.9,396.0 L76.3,395.8 L76.6,395.6 L77.0,395.5 L77.4,395.3 L78.8,396.8 L79.1,396.5 L79.5,396.2 L79.8,396.0 L80.1,395.7 L80.4,395.4 L80.7,395.2 L81.1,395.0 L81.4,394.7 L81.7,394.5 L82.1,394.3 L82.4,394.0 L82.8,393.8 L83.1,393.6 L83.5,393.4 L83.8,393.2 L84.2,393.0 L84.6,392.9 L86.0,394.3 L86.3,394.0 L86.6,393.7 L86.9,393.4 L87.2,393.2 L87.6,392.9 L87.9,392.6 L88.2,392.4 L88.5,392.1 L88.9,391.9 L89.2,391.7 L89.5,391.4 L89.9,391.2 L90.2,391.0 L90.6,390.8 L90.9,390.6 L91.3,390.4 L92.7,391.8 L93.0,391.6 L93.3,391.3 L93.6,391.0 L93.9,390.7 L94.2,390.4 L94.5,390.1 L94.9,389.8 L95.2,389.6 L95.5,389.3 L95.8,389.0 L96.1,388.8 L96.4,388.5 L96.8,388.3 L97.1,388.0 L97.4,387.8 L97.8,387.6 L98.1,387.3 L99.5,388.8 L99.8,388.5 L100.1,388.1 L100.4,387.8 L100.7,387.5 L100.9,387.2 L101.2,386.9 L101.5,386.5 L101.8,386.2 L102.1,385.9 L102.4,385.6 L102.7,385.3 L103.0,385.0 L103.3,384.7 L103.6,384.4 L103.9,384.1 L104.2,383.9 L104.5,383.6 L105.8,384.9 L106.1,384.6 L106.3,384.2 L106.6,383.8 L106.8,383.4 L107.0,383.0 L107.3,382.6 L107.5,382.2 L107.7,381.8 L108.0,381.4 L108.2,381.1 L108.5,380.7 L108.7,380.3 L109.0,380.0 L109.2,379.6 L109.5,379.2 L109.7,378.9 L110.0,378.5 L110.9,379.1 L111.0,378.6 L111.2,378.1 L111.3,377.6 L111.5,377.1 L111.6,376.6 L111.8,376.0 L111.9,375.5 L112.0,374.9 L112.1,374.3 L112.2,373.7 L112.3,373.0 L112.3,372.3 L112.3,371.5 L112.2,370.6 L112.0,369.6 L111.6,368.2 L110.0,365.0Z" fill="#c3d47d" stroke="#4d8436" stroke-width="1.9" stroke-linejoin="round"/><path d="M99.6,366.5 Q89.6,363.1 75.8,361.7 M99.6,366.5 Q98.5,376.8 92.2,387.0 M90.1,370.2 Q78.8,367.6 67.2,369.6 M90.1,370.2 Q88.0,381.8 81.5,391.6 M80.9,375.0 Q69.9,374.9 60.8,380.7 M80.9,375.0 Q77.8,387.1 70.7,396.0 M72.4,381.4 Q62.6,384.7 56.1,394.6 M72.4,381.4 Q68.0,393.0 59.6,399.9" fill="none" stroke="#a2c363" stroke-width="3.5" stroke-linecap="round" opacity="0.7" filter="url(#bl1)"/><path d="M99.6,366.5 Q89.6,363.1 75.8,361.7 M99.6,366.5 Q98.5,376.8 92.2,387.0 M90.1,370.2 Q78.8,367.6 67.2,369.6 M90.1,370.2 Q88.0,381.8 81.5,391.6 M80.9,375.0 Q69.9,374.9 60.8,380.7 M80.9,375.0 Q77.8,387.1 70.7,396.0 M72.4,381.4 Q62.6,384.7 56.1,394.6 M72.4,381.4 Q68.0,393.0 59.6,399.9" fill="none" stroke="#86b456" stroke-width="1.3" stroke-linecap="round"/><path d="M104.0,365.0 L102.2,365.6 L100.4,366.2 L98.5,366.9 L96.7,367.5 L94.9,368.2 L93.1,368.9 L91.3,369.6 L89.5,370.4 L87.7,371.3 L85.9,372.1 L84.2,373.1 L82.4,374.0 L80.7,375.1 L79.1,376.2 L77.4,377.4 L75.8,378.6 L74.2,379.9 L72.6,381.2 L71.1,382.6 L69.6,384.0 L68.1,385.5 L66.6,387.1 L65.1,388.7 L63.7,390.3 L62.2,392.0 L60.8,393.7 L59.3,395.4 L57.9,397.2" fill="none" stroke="#5a8c3c" stroke-width="1.5" stroke-linecap="round"/><path d="M212.0,330.0 L216.2,330.5 L218.0,330.5 L219.4,330.4 L220.7,330.3 L221.7,330.1 L222.7,330.0 L223.6,329.8 L224.5,329.6 L225.3,329.4 L226.1,329.2 L226.8,329.0 L227.6,328.7 L228.3,328.5 L228.9,328.3 L229.6,328.0 L230.3,327.8 L230.9,327.6 L231.5,327.3 L232.2,327.1 L232.8,326.8 L233.4,326.6 L234.0,326.3 L232.9,325.8 L233.4,325.5 L233.8,325.2 L234.2,324.9 L234.7,324.6 L235.1,324.4 L235.6,324.1 L236.0,323.8 L236.5,323.5 L236.9,323.2 L237.3,323.0 L237.8,322.7 L238.2,322.4 L238.6,322.1 L239.0,321.8 L239.4,321.5 L239.8,321.2 L240.2,321.0 L240.5,320.7 L240.9,320.4 L241.3,320.1 L241.7,319.8 L242.0,319.5 L240.4,318.8 L240.6,318.5 L240.9,318.1 L241.1,317.8 L241.4,317.5 L241.6,317.2 L241.8,316.9 L242.1,316.5 L242.3,316.2 L242.6,315.9 L242.8,315.6 L243.0,315.3 L243.2,314.9 L243.5,314.6 L243.7,314.3 L243.9,314.0 L244.1,313.6 L244.3,313.3 L244.5,313.0 L244.7,312.7 L244.9,312.3 L245.1,312.0 L245.3,311.7 L243.4,310.9 L243.5,310.6 L243.6,310.2 L243.7,309.9 L243.7,309.5 L243.8,309.2 L243.9,308.8 L244.0,308.4 L244.0,308.1 L244.1,307.7 L244.2,307.4 L244.3,307.0 L244.3,306.7 L244.4,306.3 L244.4,306.0 L244.5,305.6 L244.5,305.2 L244.6,304.9 L244.6,304.5 L244.7,304.2 L244.7,303.8 L244.8,303.4 L244.8,303.1 L242.8,302.3 L242.7,301.9 L242.7,301.5 L242.6,301.2 L242.5,300.8 L242.4,300.4 L242.4,300.0 L242.3,299.6 L242.2,299.2 L242.2,298.9 L242.1,298.5 L242.0,298.1 L241.9,297.7 L241.8,297.3 L241.8,296.9 L241.7,296.5 L241.6,296.2 L241.5,295.8 L241.4,295.4 L241.3,295.0 L241.2,294.6 L241.1,294.2 L241.0,293.8 L238.9,293.0 L238.7,292.6 L238.5,292.2 L238.3,291.8 L238.0,291.4 L237.8,291.0 L237.6,290.6 L237.4,290.1 L237.2,289.7 L237.0,289.3 L236.8,288.9 L236.6,288.5 L236.4,288.1 L236.2,287.7 L236.0,287.3 L235.8,286.9 L235.6,286.5 L235.4,286.0 L235.2,285.6 L235.0,285.2 L234.7,284.8 L234.5,284.4 L234.3,284.0 L232.0,283.1 L231.7,282.7 L231.4,282.3 L231.1,281.8 L230.8,281.4 L230.5,281.0 L230.2,280.6 L229.9,280.1 L229.6,279.7 L229.3,279.3 L228.9,278.8 L228.6,278.4 L228.2,277.9 L227.9,277.5 L227.5,277.1 L227.1,276.6 L226.6,276.1 L226.2,275.7 L225.7,275.2 L225.2,274.8 L224.7,274.3 L224.1,273.8 L223.5,273.3 L223.5,273.3 L222.8,273.5 L222.3,273.8 L221.8,274.1 L221.3,274.3 L220.9,274.6 L220.5,274.9 L220.1,275.2 L219.7,275.5 L219.4,275.8 L219.0,276.1 L218.7,276.4 L218.4,276.7 L218.1,277.0 L217.8,277.3 L217.5,277.6 L217.3,277.9 L217.0,278.3 L216.8,278.6 L216.5,278.9 L216.3,279.2 L216.0,279.5 L215.7,279.8 L213.5,279.7 L213.3,280.1 L213.1,280.4 L212.9,280.7 L212.7,281.1 L212.5,281.4 L212.3,281.7 L212.1,282.1 L211.9,282.4 L211.8,282.7 L211.6,283.1 L211.4,283.4 L211.2,283.7 L211.0,284.0 L210.8,284.4 L210.6,284.7 L210.4,285.0 L210.2,285.4 L210.0,285.7 L209.8,286.0 L209.5,286.3 L209.3,286.7 L209.1,287.0 L206.9,286.9 L206.8,287.3 L206.7,287.6 L206.5,287.9 L206.4,288.3 L206.3,288.6 L206.1,289.0 L206.0,289.3 L205.9,289.6 L205.7,290.0 L205.6,290.3 L205.4,290.7 L205.3,291.0 L205.1,291.3 L205.0,291.7 L204.8,292.0 L204.7,292.4 L204.5,292.7 L204.3,293.0 L204.2,293.4 L204.0,293.7 L203.8,294.0 L203.6,294.4 L201.5,294.3 L201.4,294.6 L201.3,295.0 L201.2,295.3 L201.1,295.7 L201.0,296.0 L200.9,296.4 L200.8,296.7 L200.7,297.1 L200.6,297.4 L200.5,297.8 L200.4,298.1 L200.3,298.5 L200.2,298.8 L200.1,299.2 L200.0,299.5 L199.9,299.9 L199.8,300.2 L199.6,300.6 L199.5,300.9 L199.4,301.2 L199.2,301.6 L199.1,301.9 L197.0,301.9 L197.0,302.2 L197.0,302.6 L196.9,303.0 L196.9,303.3 L196.8,303.7 L196.8,304.0 L196.7,304.4 L196.7,304.8 L196.7,305.1 L196.6,305.5 L196.6,305.8 L196.5,306.2 L196.5,306.6 L196.4,306.9 L196.4,307.3 L196.3,307.6 L196.3,308.0 L196.2,308.4 L196.2,308.7 L196.1,309.1 L196.1,309.4 L196.0,309.8 L194.1,309.8 L194.1,310.1 L194.2,310.5 L194.2,310.9 L194.3,311.3 L194.4,311.7 L194.4,312.0 L194.5,312.4 L194.6,312.8 L194.6,313.2 L194.7,313.6 L194.8,314.0 L194.9,314.4 L195.0,314.7 L195.1,315.1 L195.2,315.5 L195.3,315.9 L195.4,316.3 L195.6,316.7 L195.7,317.1 L195.8,317.5 L195.9,317.9 L196.0,318.3 L194.6,318.3 L194.8,318.8 L195.1,319.2 L195.4,319.6 L195.7,320.1 L196.0,320.5 L196.4,320.9 L196.7,321.4 L197.1,321.8 L197.5,322.3 L197.9,322.7 L198.3,323.2 L198.8,323.6 L199.3,324.1 L199.8,324.6 L200.4,325.1 L201.1,325.6 L201.9,326.1 L202.8,326.7 L203.9,327.2 L205.2,327.9 L207.1,328.6 L212.0,330.0Z" fill="#c3d47d" stroke="#4d8436" stroke-width="1.9" stroke-linejoin="round"/><path d="M217.5,318.2 Q228.8,318.9 240.1,311.5 M217.5,318.2 Q208.5,314.8 202.8,303.9 M222.1,311.6 Q233.1,309.5 240.0,301.2 M222.1,311.6 Q212.2,305.2 207.6,294.6 M225.2,304.2 Q233.8,299.3 235.7,289.9 M225.2,304.2 Q215.7,295.6 213.1,285.4 M226.4,295.7 Q231.1,288.4 227.6,278.0 M226.4,295.7 Q218.8,285.9 219.9,276.4" fill="none" stroke="#a2c363" stroke-width="3.5" stroke-linecap="round" opacity="0.7" filter="url(#bl1)"/><path d="M217.5,318.2 Q228.8,318.9 240.1,311.5 M217.5,318.2 Q208.5,314.8 202.8,303.9 M222.1,311.6 Q233.1,309.5 240.0,301.2 M222.1,311.6 Q212.2,305.2 207.6,294.6 M225.2,304.2 Q233.8,299.3 235.7,289.9 M225.2,304.2 Q215.7,295.6 213.1,285.4 M226.4,295.7 Q231.1,288.4 227.6,278.0 M226.4,295.7 Q218.8,285.9 219.9,276.4" fill="none" stroke="#86b456" stroke-width="1.3" stroke-linecap="round"/><path d="M215.3,321.0 L216.2,319.9 L217.2,318.7 L218.1,317.5 L219.0,316.3 L219.9,315.0 L220.7,313.8 L221.6,312.5 L222.3,311.2 L223.0,309.8 L223.7,308.4 L224.3,307.0 L224.8,305.5 L225.3,304.0 L225.6,302.5 L225.9,300.9 L226.2,299.3 L226.3,297.6 L226.4,296.0 L226.5,294.2 L226.4,292.5 L226.3,290.7 L226.1,288.9 L225.9,287.0 L225.7,285.2 L225.4,283.2 L225.0,281.3 L224.7,279.3 L224.3,277.4" fill="none" stroke="#5a8c3c" stroke-width="1.5" stroke-linecap="round"/><path d="M218.0,334.0 L218.3,337.8 L218.7,339.2 L219.1,340.2 L219.5,341.1 L219.9,341.8 L220.3,342.4 L220.8,343.0 L221.2,343.5 L221.6,344.0 L222.0,344.5 L222.4,344.9 L222.8,345.3 L223.2,345.7 L223.7,346.1 L224.1,346.4 L224.5,346.8 L224.9,347.2 L225.3,346.2 L225.8,346.3 L226.2,346.5 L226.6,346.7 L227.0,346.9 L227.4,347.1 L227.9,347.3 L228.3,347.5 L228.7,347.7 L229.1,347.9 L229.5,348.1 L230.0,348.3 L230.4,348.6 L230.8,348.8 L231.2,349.0 L231.6,349.2 L232.1,349.4 L232.5,349.6 L232.9,347.7 L233.4,347.8 L233.8,347.9 L234.2,348.0 L234.6,348.1 L235.0,348.2 L235.5,348.3 L235.9,348.4 L236.3,348.5 L236.7,348.6 L237.2,348.7 L237.6,348.8 L238.0,349.0 L238.4,349.1 L238.8,349.2 L239.3,349.3 L239.7,349.4 L240.1,349.6 L240.6,347.6 L241.0,347.6 L241.4,347.6 L241.8,347.7 L242.3,347.7 L242.7,347.7 L243.1,347.8 L243.5,347.8 L244.0,347.9 L244.4,347.9 L244.8,348.0 L245.2,348.1 L245.6,348.2 L246.1,348.2 L246.5,348.3 L246.9,348.4 L247.3,348.5 L247.8,348.6 L248.2,346.5 L248.7,346.5 L249.1,346.5 L249.5,346.5 L249.9,346.5 L250.4,346.5 L250.8,346.5 L251.2,346.6 L251.6,346.6 L252.0,346.6 L252.5,346.7 L252.9,346.7 L253.3,346.8 L253.7,346.8 L254.2,346.9 L254.6,347.0 L255.0,347.0 L255.5,345.1 L255.9,345.0 L256.3,345.0 L256.7,345.0 L257.2,344.9 L257.6,344.9 L258.0,344.9 L258.4,344.9 L258.9,344.9 L259.3,345.0 L259.7,345.0 L260.1,345.0 L260.6,345.0 L261.0,345.1 L261.4,345.1 L261.8,345.2 L262.3,345.2 L262.7,345.3 L263.1,343.3 L263.6,343.2 L264.0,343.2 L264.4,343.1 L264.8,343.1 L265.3,343.1 L265.7,343.0 L266.1,343.0 L266.5,343.0 L267.0,343.0 L267.4,343.0 L267.8,343.1 L268.2,343.1 L268.7,343.1 L269.1,343.1 L269.5,343.1 L269.9,343.2 L270.4,343.2 L270.8,341.2 L271.3,341.1 L271.7,341.0 L272.1,340.9 L272.5,340.9 L273.0,340.8 L273.4,340.8 L273.8,340.8 L274.2,340.7 L274.7,340.7 L275.1,340.7 L275.5,340.7 L275.9,340.6 L276.4,340.6 L276.8,340.6 L277.2,340.6 L277.6,340.6 L278.1,340.5 L278.5,338.6 L278.9,338.5 L279.4,338.5 L279.8,338.4 L280.2,338.3 L280.7,338.2 L281.1,338.1 L281.5,337.9 L281.9,337.8 L282.4,337.7 L282.8,337.5 L283.2,337.3 L283.6,337.1 L284.1,336.9 L284.5,336.6 L284.9,336.3 L285.4,336.0 L285.8,335.6 L285.8,335.6 L285.4,334.9 L285.0,334.3 L284.6,333.8 L284.2,333.3 L283.7,332.8 L283.3,332.3 L282.9,331.9 L282.5,331.4 L282.1,331.0 L281.7,330.6 L281.3,330.2 L280.8,329.9 L280.4,329.5 L280.0,329.1 L279.6,328.8 L279.2,328.4 L278.8,328.1 L278.4,326.0 L278.0,325.7 L277.6,325.4 L277.1,325.1 L276.7,324.8 L276.3,324.6 L275.9,324.3 L275.5,324.1 L275.1,323.8 L274.6,323.5 L274.2,323.3 L273.8,323.0 L273.4,322.7 L273.0,322.5 L272.5,322.2 L272.1,321.9 L271.7,321.6 L271.3,321.3 L270.9,319.0 L270.5,318.9 L270.1,318.7 L269.7,318.5 L269.2,318.3 L268.8,318.2 L268.4,318.0 L268.0,317.8 L267.6,317.6 L267.1,317.5 L266.7,317.3 L266.3,317.1 L265.9,316.9 L265.5,316.7 L265.1,316.5 L264.6,316.3 L264.2,316.1 L263.8,315.9 L263.4,313.8 L263.0,313.7 L262.6,313.6 L262.2,313.5 L261.7,313.4 L261.3,313.4 L260.9,313.3 L260.5,313.2 L260.0,313.1 L259.6,313.0 L259.2,312.9 L258.8,312.9 L258.4,312.8 L257.9,312.7 L257.5,312.6 L257.1,312.5 L256.7,312.4 L256.2,312.2 L255.9,310.2 L255.4,310.2 L255.0,310.3 L254.6,310.3 L254.2,310.3 L253.7,310.3 L253.3,310.3 L252.9,310.4 L252.5,310.4 L252.1,310.4 L251.6,310.4 L251.2,310.4 L250.8,310.5 L250.4,310.5 L249.9,310.5 L249.5,310.5 L249.1,310.5 L248.7,308.5 L248.3,308.6 L247.9,308.7 L247.4,308.8 L247.0,309.0 L246.6,309.1 L246.1,309.2 L245.7,309.4 L245.3,309.5 L244.9,309.6 L244.4,309.8 L244.0,309.9 L243.6,310.0 L243.2,310.2 L242.7,310.3 L242.3,310.4 L241.9,310.5 L241.4,310.6 L241.1,308.8 L240.6,309.0 L240.2,309.3 L239.8,309.5 L239.3,309.8 L238.9,310.0 L238.5,310.3 L238.1,310.5 L237.6,310.8 L237.2,311.1 L236.8,311.3 L236.3,311.6 L235.9,311.8 L235.5,312.1 L235.0,312.4 L234.6,312.6 L234.2,312.9 L233.8,313.1 L233.4,311.4 L232.9,311.8 L232.5,312.2 L232.1,312.6 L231.6,313.0 L231.2,313.4 L230.8,313.8 L230.3,314.2 L229.9,314.6 L229.5,315.1 L229.0,315.5 L228.6,315.9 L228.2,316.3 L227.7,316.7 L227.3,317.1 L226.9,317.5 L226.4,317.9 L226.0,318.3 L225.6,317.5 L225.2,318.0 L224.7,318.6 L224.3,319.2 L223.8,319.8 L223.4,320.4 L223.0,321.0 L222.5,321.7 L222.1,322.3 L221.7,323.0 L221.2,323.8 L220.8,324.5 L220.3,325.4 L219.9,326.3 L219.4,327.4 L219.0,328.6 L218.5,330.2 L218.0,334.0Z" fill="#c3d47d" stroke="#4d8436" stroke-width="1.9" stroke-linejoin="round"/><path d="M231.3,330.7 Q234.5,338.3 245.6,344.0 M231.3,330.7 Q234.9,321.5 246.3,313.1 M240.5,328.4 Q246.4,337.0 257.5,342.2 M240.5,328.4 Q246.8,319.7 258.1,315.3 M250.3,327.4 Q258.3,336.1 269.4,340.2 M250.3,327.4 Q258.7,321.2 269.9,321.4 M260.6,328.2 Q270.2,336.0 281.3,337.4 M260.6,328.2 Q270.4,325.8 281.5,331.0" fill="none" stroke="#a2c363" stroke-width="3.5" stroke-linecap="round" opacity="0.7" filter="url(#bl1)"/><path d="M231.3,330.7 Q234.5,338.3 245.6,344.0 M231.3,330.7 Q234.9,321.5 246.3,313.1 M240.5,328.4 Q246.4,337.0 257.5,342.2 M240.5,328.4 Q246.8,319.7 258.1,315.3 M250.3,327.4 Q258.3,336.1 269.4,340.2 M250.3,327.4 Q258.7,321.2 269.9,321.4 M260.6,328.2 Q270.2,336.0 281.3,337.4 M260.6,328.2 Q270.4,325.8 281.5,331.0" fill="none" stroke="#86b456" stroke-width="1.3" stroke-linecap="round"/><path d="M227.2,332.0 L228.9,331.5 L230.6,331.0 L232.3,330.4 L234.0,330.0 L235.8,329.5 L237.5,329.1 L239.3,328.7 L241.1,328.3 L243.0,328.0 L244.8,327.8 L246.7,327.6 L248.6,327.5 L250.5,327.4 L252.4,327.4 L254.4,327.5 L256.3,327.7 L258.3,327.9 L260.3,328.2 L262.3,328.6 L264.4,329.0 L266.4,329.5 L268.5,330.0 L270.6,330.6 L272.7,331.2 L274.8,331.9 L277.0,332.6 L279.2,333.3 L281.4,334.1" fill="none" stroke="#5a8c3c" stroke-width="1.5" stroke-linecap="round"/><path d="M150.5,74 L146.3,123" fill="none" stroke="#b86a28" stroke-width="4.2" stroke-linecap="round" stroke-linejoin="round"/><path d="M150.5,74 L146.3,123" fill="none" stroke="#e6bf90" stroke-width="1.5999999999999999" stroke-dasharray="0 7 1000 0" stroke-linecap="butt"/><path d="M129,99.3 L144,122" fill="none" stroke="#b86a28" stroke-width="4.2" stroke-linecap="round" stroke-linejoin="round"/><path d="M129,99.3 L144,122" fill="none" stroke="#e6bf90" stroke-width="1.5999999999999999" stroke-dasharray="0 7 1000 0" stroke-linecap="butt"/><path d="M106,134.5 Q112,136 116,141" fill="none" stroke="#b86a28" stroke-width="4.2" stroke-linecap="round" stroke-linejoin="round"/><path d="M106,134.5 Q112,136 116,141" fill="none" stroke="#e6bf90" stroke-width="1.5999999999999999" stroke-dasharray="0 7 1000 0" stroke-linecap="butt"/><path d="M172,145 L167.8,158.5" fill="none" stroke="#b86a28" stroke-width="4.2" stroke-linecap="round" stroke-linejoin="round"/><path d="M172,145 L167.8,158.5" fill="none" stroke="#e6bf90" stroke-width="1.5999999999999999" stroke-dasharray="0 7 1000 0" stroke-linecap="butt"/><path d="M85,330.8 C95,337 106,348 113.5,363.5" fill="none" stroke="#b86a28" stroke-width="4.6" stroke-linecap="round" stroke-linejoin="round"/><path d="M85,330.8 C95,337 106,348 113.5,363.5" fill="none" stroke="#e6bf90" stroke-width="1.9999999999999998" stroke-dasharray="0 7 1000 0" stroke-linecap="butt"/><path d="M111.7,336 C112.5,345 113,353 113.8,363.5" fill="none" stroke="#b86a28" stroke-width="4.4" stroke-linecap="round" stroke-linejoin="round"/><path d="M111.7,336 C112.5,345 113,353 113.8,363.5" fill="none" stroke="#e6bf90" stroke-width="1.8" stroke-dasharray="0 7 1000 0" stroke-linecap="butt"/><path d="M215.3,321 C212,330 210,338 206.8,346" fill="none" stroke="#b86a28" stroke-width="4.4" stroke-linecap="round" stroke-linejoin="round"/><path d="M215.3,321 C212,330 210,338 206.8,346" fill="none" stroke="#e6bf90" stroke-width="1.8" stroke-dasharray="0 7 1000 0" stroke-linecap="butt"/><path d="M227.2,332 C219,334 212,339 206.8,346" fill="none" stroke="#b86a28" stroke-width="4.4" stroke-linecap="round" stroke-linejoin="round"/><path d="M227.2,332 C219,334 212,339 206.8,346" fill="none" stroke="#e6bf90" stroke-width="1.8" stroke-dasharray="0 7 1000 0" stroke-linecap="butt"/><path d="M157,253.8 L188,242 L190.4,247.2 L158.8,259.4 Z" fill="#d3e9f1" stroke="#5cb3d3" stroke-width="1.4" stroke-linejoin="round"/><path d="M126.3,317 L139,314.7 L139.5,329 L130.3,329 Z" fill="#d3e9f1" stroke="#5cb3d3" stroke-width="1.4" stroke-linejoin="round"/><path d="M139.5,255.5 C146,255 152,256 158,257 C160,270 161.5,282 161,293 C160.5,305 158.5,318 157.5,326.6 C151,328 145,328 139.5,326.6 C138,315 136.8,305 136.8,293.4 C136.8,280 138.5,268 139.5,255.5 Z" fill="#dae6e9" stroke="#66b6d3" stroke-width="1.5"/><path d="M144,262 L150,302 L155,264" fill="none" stroke="#b9a89a" stroke-width="1" opacity="0.6"/><path d="M138.5,266 Q149,264 159.5,267 M138,273 L160,271 M137.5,281 L160.5,270 M137,289 Q149,287 161,289 M137,295 L161,300 M137,301 L161,296 M137.5,307 L160,311 M138,314 L159.5,317 M139,321 L158,322" fill="none" stroke="#5aa0b3" stroke-width="1.5"/><rect x="109" y="250" width="82" height="81" fill="none" stroke="#000" stroke-width="3"/><path d="M192,248 C215,222 250,200 311.7,191.7 C340,188 365,190 383.2,192.8 L383.2,186.3 L407,210 L377.8,222 L378.8,214.4 C355,210 335,208.5 311.7,210 C265,215 225,232 192,248 Z" fill="#d8d8d8" stroke="#2a2a2a" stroke-width="1.6" stroke-linejoin="miter"/><path d="M406.4,167.7 C409,185 414,205 419,225 C424,245 428,270 429.9,300 C431,340 430,400 430,459 L498.5,459 C498.5,420 497.5,330 497.5,300 C498,275 500,255 501.5,245 C505,225 510,190 514.3,158 L499.8,163.8 L477.6,275 L454.8,169.4 Z" fill="url(#kg)" stroke="#b86a28" stroke-width="1.8" stroke-linejoin="round"/><path d="M449,182 C455,210 463,240 471,268" stroke="#dcae74" stroke-width="9" fill="none" opacity="0.6" filter="url(#bl2)"/><path d="M489,280 C490,288 490,296 488,306" stroke="#b08882" stroke-width="5" fill="none" opacity="0.6" filter="url(#bl2)"/><path d="M430,245 C436,265 441,280 444,296" stroke="#e0b07a" stroke-width="5" fill="none" opacity="0.6" filter="url(#bl2)"/><path d="M470,420 C475,440 476,450 474,458" stroke="#dcb07e" stroke-width="6" fill="none" opacity="0.5" filter="url(#bl2)"/><path d="M427.5,6 L428,132 C428,142 426,150 423.9,156 L454.8,169.4 L477.6,275 L499.8,163.8 L497.4,147 C497,120 496,60 495.6,6 Z" fill="url(#sg)" stroke="#b86a28" stroke-width="1.8" stroke-linejoin="round"/><path d="M416.3,153.7 L454.8,169.4 C450,176 441,178.5 433.8,178.2 C425,177.5 415,171 407.6,170 C404,167 405,160 416.3,153.7 Z" fill="#eedfc6" stroke="#b86a28" stroke-width="1.8" stroke-linejoin="round"/><path d="M497.4,147 C503,148 509,150.5 514.3,155.7 C515,158 514,159 513.8,159 C509,163 503,164.5 499.8,163.8 Z" fill="#eedfc6" stroke="#b86a28" stroke-width="1.8" stroke-linejoin="round"/><path d="M428,367 L332,396 Q328,398 329,400 C333,410 338,425 340,449 Q341,451 343,450 L429,415 Z" fill="#d0e8f0" stroke="#3a9ebd" stroke-width="2" stroke-linejoin="round"/><path d="M426.4,359.4 C440,364 470,372 500.7,374 L500.7,393.4 Q499,396 496,396 C470,398 450,398 428.3,391.6 Z" fill="#d0e8f0" stroke="#3a9ebd" stroke-width="2" stroke-linejoin="round"/><path d="M394,298.7 C420,313 455,333 498.9,343.9 Q501,345 500.7,348 L500.7,373 C470,372 440,362 425.5,356.7 C410,350 390,337 372.7,323.3 L379,320 L377.5,315 L384,311 L381.5,306 L389,303 L388,300 L394,298.7 Z" fill="#d0e8f0" stroke="none"/><path d="M394,298.7 C420,313 455,333 498.9,343.9 Q501,345 500.7,348 L500.7,373 C470,372 440,362 425.5,356.7 C410,350 390,337 372.7,323.3" fill="none" stroke="#3a9ebd" stroke-width="2" stroke-linejoin="round"/><path d="M350,420 L420,395 M345,435 L400,415 M440,380 L490,386 M440,384 L480,387 M410,325 L470,348 M430,343 L490,360" stroke="#ffffff" stroke-width="2.5" opacity="0.45" fill="none" stroke-linecap="round" filter="url(#bl1)"/><path d="M424,336.7 C400,326 378,312 374,295 C372,283 382,276 393,275.5" fill="none" stroke="#e21d24" stroke-width="4"/><path d="M388.5,268 L410.5,276 L389.5,286 L392,276 Z" fill="#e21d24"/><rect x="306.8" y="5.6" width="289.2" height="454.4" fill="none" stroke="#000" stroke-width="3"/><text x="5" y="193.8" font-family="Liberation Sans" font-size="20" fill="#111">Scion</text><line x1="64" y1="189" x2="144.5" y2="189" stroke="#000" stroke-width="3"/><text x="5" y="527" font-family="Liberation Sans" font-size="20" fill="#111">Stock</text><line x1="64" y1="520.5" x2="146" y2="520.5" stroke="#000" stroke-width="3"/>
</svg>
</body></html>
